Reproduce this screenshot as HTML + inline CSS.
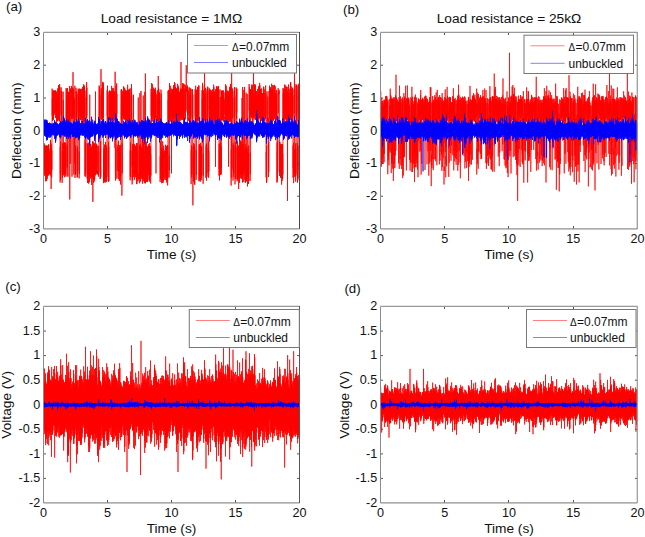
<!DOCTYPE html>
<html><head><meta charset="utf-8"><style>
html,body{margin:0;padding:0;background:#fff;width:645px;height:537px;overflow:hidden}
svg{display:block}
text{font-family:"Liberation Sans",sans-serif;fill:#111}
</style></head><body>
<svg width="645" height="537" viewBox="0 0 645 537" fill="none">
<path d="M107.5 229.0v-3M107.5 32.5v2.5M171.5 229.0v-3M171.5 32.5v2.5M235.5 229.0v-3M235.5 32.5v2.5M43.5 65.2h2.5M299.5 65.2h-2.5M43.5 98.0h2.5M299.5 98.0h-2.5M43.5 130.8h2.5M299.5 130.8h-2.5M43.5 163.5h2.5M299.5 163.5h-2.5M43.5 196.2h2.5M299.5 196.2h-2.5" stroke="#555" stroke-width="1" fill="none"/>
<text x="43.5" y="243.3" font-size="12.6" text-anchor="middle">0</text>
<text x="107.5" y="243.3" font-size="12.6" text-anchor="middle">5</text>
<text x="171.5" y="243.3" font-size="12.6" text-anchor="middle">10</text>
<text x="235.5" y="243.3" font-size="12.6" text-anchor="middle">15</text>
<text x="299.5" y="243.3" font-size="12.6" text-anchor="middle">20</text>
<text x="40.2" y="36.3" font-size="12.6" text-anchor="end">3</text>
<text x="40.2" y="69.0" font-size="12.6" text-anchor="end">2</text>
<text x="40.2" y="101.8" font-size="12.6" text-anchor="end">1</text>
<text x="40.2" y="134.6" font-size="12.6" text-anchor="end">0</text>
<text x="40.2" y="167.3" font-size="12.6" text-anchor="end">-1</text>
<text x="40.2" y="200.1" font-size="12.6" text-anchor="end">-2</text>
<text x="40.2" y="232.8" font-size="12.6" text-anchor="end">-3</text>
<text x="171.5" y="259.0" font-size="13.7" text-anchor="middle">Time (s)</text>
<text transform="translate(21.0 130.8) rotate(-90)" font-size="13.7" text-anchor="middle">Deflection (mm)</text>
<text x="171.5" y="22.8" font-size="13.7" text-anchor="middle">Load resistance = 1MΩ</text>
<text x="6.0" y="11.4" font-size="13.3">(a)</text>
<path d="M444.5 229.0v-3M444.5 32.5v2.5M508.5 229.0v-3M508.5 32.5v2.5M573.5 229.0v-3M573.5 32.5v2.5M380.5 65.2h2.5M637.5 65.2h-2.5M380.5 98.0h2.5M637.5 98.0h-2.5M380.5 130.8h2.5M637.5 130.8h-2.5M380.5 163.5h2.5M637.5 163.5h-2.5M380.5 196.2h2.5M637.5 196.2h-2.5" stroke="#555" stroke-width="1" fill="none"/>
<text x="380.5" y="243.3" font-size="12.6" text-anchor="middle">0</text>
<text x="444.8" y="243.3" font-size="12.6" text-anchor="middle">5</text>
<text x="509.0" y="243.3" font-size="12.6" text-anchor="middle">10</text>
<text x="573.2" y="243.3" font-size="12.6" text-anchor="middle">15</text>
<text x="637.5" y="243.3" font-size="12.6" text-anchor="middle">20</text>
<text x="377.2" y="36.3" font-size="12.6" text-anchor="end">3</text>
<text x="377.2" y="69.0" font-size="12.6" text-anchor="end">2</text>
<text x="377.2" y="101.8" font-size="12.6" text-anchor="end">1</text>
<text x="377.2" y="134.6" font-size="12.6" text-anchor="end">0</text>
<text x="377.2" y="167.3" font-size="12.6" text-anchor="end">-1</text>
<text x="377.2" y="200.1" font-size="12.6" text-anchor="end">-2</text>
<text x="377.2" y="232.8" font-size="12.6" text-anchor="end">-3</text>
<text x="509.0" y="259.0" font-size="13.7" text-anchor="middle">Time (s)</text>
<text transform="translate(358.7 130.8) rotate(-90)" font-size="13.7" text-anchor="middle">Deflection (mm)</text>
<text x="509.0" y="22.8" font-size="13.7" text-anchor="middle">Load resistance = 25kΩ</text>
<text x="343.0" y="14.4" font-size="13.3">(b)</text>
<path d="M107.5 503.0v-3M107.5 306.5v2.5M171.5 503.0v-3M171.5 306.5v2.5M235.5 503.0v-3M235.5 306.5v2.5M43.5 331.1h2.5M299.5 331.1h-2.5M43.5 355.6h2.5M299.5 355.6h-2.5M43.5 380.2h2.5M299.5 380.2h-2.5M43.5 404.8h2.5M299.5 404.8h-2.5M43.5 429.3h2.5M299.5 429.3h-2.5M43.5 453.9h2.5M299.5 453.9h-2.5M43.5 478.4h2.5M299.5 478.4h-2.5" stroke="#555" stroke-width="1" fill="none"/>
<text x="43.5" y="517.3" font-size="12.6" text-anchor="middle">0</text>
<text x="107.5" y="517.3" font-size="12.6" text-anchor="middle">5</text>
<text x="171.5" y="517.3" font-size="12.6" text-anchor="middle">10</text>
<text x="235.5" y="517.3" font-size="12.6" text-anchor="middle">15</text>
<text x="299.5" y="517.3" font-size="12.6" text-anchor="middle">20</text>
<text x="40.2" y="310.3" font-size="12.6" text-anchor="end">2</text>
<text x="40.2" y="334.9" font-size="12.6" text-anchor="end">1.5</text>
<text x="40.2" y="359.4" font-size="12.6" text-anchor="end">1</text>
<text x="40.2" y="384.0" font-size="12.6" text-anchor="end">0.5</text>
<text x="40.2" y="408.6" font-size="12.6" text-anchor="end">0</text>
<text x="40.2" y="433.1" font-size="12.6" text-anchor="end">-0.5</text>
<text x="40.2" y="457.7" font-size="12.6" text-anchor="end">-1</text>
<text x="40.2" y="482.2" font-size="12.6" text-anchor="end">-1.5</text>
<text x="40.2" y="506.8" font-size="12.6" text-anchor="end">-2</text>
<text x="171.5" y="533.0" font-size="13.7" text-anchor="middle">Time (s)</text>
<text transform="translate(11.4 404.8) rotate(-90)" font-size="13.7" text-anchor="middle">Voltage (V)</text>
<text x="5.3" y="290.6" font-size="13.3">(c)</text>
<path d="M444.5 503.0v-3M444.5 306.5v2.5M508.5 503.0v-3M508.5 306.5v2.5M573.5 503.0v-3M573.5 306.5v2.5M380.5 331.1h2.5M637.5 331.1h-2.5M380.5 355.6h2.5M637.5 355.6h-2.5M380.5 380.2h2.5M637.5 380.2h-2.5M380.5 404.8h2.5M637.5 404.8h-2.5M380.5 429.3h2.5M637.5 429.3h-2.5M380.5 453.9h2.5M637.5 453.9h-2.5M380.5 478.4h2.5M637.5 478.4h-2.5" stroke="#555" stroke-width="1" fill="none"/>
<text x="380.5" y="517.3" font-size="12.6" text-anchor="middle">0</text>
<text x="444.8" y="517.3" font-size="12.6" text-anchor="middle">5</text>
<text x="509.0" y="517.3" font-size="12.6" text-anchor="middle">10</text>
<text x="573.2" y="517.3" font-size="12.6" text-anchor="middle">15</text>
<text x="637.5" y="517.3" font-size="12.6" text-anchor="middle">20</text>
<text x="377.2" y="310.3" font-size="12.6" text-anchor="end">2</text>
<text x="377.2" y="334.9" font-size="12.6" text-anchor="end">1.5</text>
<text x="377.2" y="359.4" font-size="12.6" text-anchor="end">1</text>
<text x="377.2" y="384.0" font-size="12.6" text-anchor="end">0.5</text>
<text x="377.2" y="408.6" font-size="12.6" text-anchor="end">0</text>
<text x="377.2" y="433.1" font-size="12.6" text-anchor="end">-0.5</text>
<text x="377.2" y="457.7" font-size="12.6" text-anchor="end">-1</text>
<text x="377.2" y="482.2" font-size="12.6" text-anchor="end">-1.5</text>
<text x="377.2" y="506.8" font-size="12.6" text-anchor="end">-2</text>
<text x="509.0" y="533.0" font-size="13.7" text-anchor="middle">Time (s)</text>
<text transform="translate(348.5 404.8) rotate(-90)" font-size="13.7" text-anchor="middle">Voltage (V)</text>
<text x="344.4" y="292.7" font-size="13.3">(d)</text>
<path transform="translate(43.500 0) scale(0.125)" d="M0 1135l1 256 1-185 1 180 1-241 1 173 1-135 1 180 1 42 1-248 1 198 1-160 1 149 1-146 1 134 1-160 1-8 1 287 1-218 1 144 1-202 1 236 1-223 1 256 1-280 1 283 1-207 1 189 1-263 1 264 1-237 1 214 1-241 1 242 1-170 1 136 1-158 1 188 1-236 1 178 1-190 1 246 1-245 1 183 1-150 1 202 1-182 1 177 1-7 1 9 1-8 1 13 1-21 1 7 1 10 1-11 1-261 1 285 1-263 1 179 1-120 1 313 1-357 1 221 1-189 1 231 1-214 1 155 1-369 1-281 1 215 1-137 1 178 1-239 1 175 1-121 1 182 1-210 1 201 1-155 1 158 1-235 1 190 1-179 1 189 1-194 1 186 1-176 1-7 1 18 1-7 1 1 1-7 1-12 1 14 1-12 1 218 1-218 1 155 1-95 1 112 1-167 1 160 1-120 1 219 1-250 1 189 1-132 1 173 1-171 1 172 1-221 1 215 1-257 1 239 1-191 1 182 1-174 1 179 1-174 1-87 1 283 1-200 1 192 1-247 1 208 1-233 1 267 1 19 1-298 1 230 1-203 1 461 1 300 1-286 1 207 1 58 1-306 1 265 1-213 1-197 1-289 1 220 1-177 1-14 1 259 1-252 1 204 1 212 1 312 1-254 1 215 1-16 1-259 1 192 1-179 1-196 1-233 1 230 1-161 1 601 1-261 1 218 1-196 1 219 1-173 1 133 1-167 1-38 1 280 1-250 1 207 1-231 1 269 1-257 1 229 1-243 1 256 1-222 1 155 1-349 1-278 1 244 1-182 1-54 1 246 1-197 1 137 1 514 1-255 1 188 1-114 1-527 1 242 1-190 1 166 1 491 1-503 1-174 1 140 1-142 1 265 1-239 1 226 1-205 1 187 1-224 1 253 1-18 1-291 1 908 1-838 1 179 1-203 1 577 1-588 1 21 1-38 1 24 1 14 1-18 1 2 1-7 1 17 1-51 1 265 1-217 1 199 1 479 1-471 1-225 1 208 1-225 1 249 1-220 1 196 1-348 1 368 1-204 1 161 1-193 1 277 1 411 1-473 1-137 1 131 1-133 1 191 1-16 1 347 1-411 1-210 1 738 1-245 1 195 1-165 1 189 1-237 1 229 1-160 1-528 1 259 1-229 1 221 1 1 1-218 1 200 1-182 1 373 1 292 1-229 1 160 1 68 1-246 1 194 1-128 1-285 1-244 1 193 1-151 1 213 1-252 1 215 1-161 1 363 1 298 1-215 1 180 1-418 1-266 1 196 1-183 1 204 1-166 1 203 1-187 1-62 1 246 1-199 1 154 1-163 1 184 1-185 1 181 1-221 1 254 1-181 1 157 1-164 1 143 1-134 1 167 1 28 1-285 1 246 1-192 1 211 1-263 1 225 1-186 1 256 1-318 1 226 1-211 1 287 1-281 1 262 1-272 1 48 1 255 1-207 1 172 1 458 1-295 1 286 1-261 1 271 1-264 1 238 1-212 1-449 1 206 1-152 1 113 1 52 1-288 1 267 1-222 1 442 1 284 1-280 1 255 1 62 1-315 1 284 1-191 1 180 1-258 1 250 1-209 1 264 1-328 1 232 1-182 1 198 1-234 1 226 1-197 1 274 1-308 1-393 1 402 1 248 1-169 1 157 1-217 1 250 1-276 1 253 1-244 1 239 1-170 1 185 1-240 1 10 1 295 1-279 1 214 1-142 1 122 1-143 1 147 1-269 1 298 1-253 1 440 1-483 1 273 1-222 1 178 1 101 1-322 1 266 1-258 1 308 1-242 1 229 1-226 1-68 1 287 1-265 1 238 1-231 1 197 1-212 1 235 1-666 1 668 1-220 1 208 1-218 1 215 1-204 1 185 1-216 1 239 1-227 1 193 1-142 1 125 1-173 1 222 1-22 1-4 1 38 1-35 1 22 1 3 1-22 1 17 1 29 1-244 1 202 1-131 1-268 1-289 1 278 1-225 1-39 1 240 1-179 1 127 1 277 1 271 1-222 1 154 1 58 1-292 1 281 1-234 1-625 1 399 1-245 1 186 1 64 1-228 1 161 1-135 1 142 1-108 1 153 1-194 1 204 1-297 1 234 1-215 1 201 1-190 1 257 1-282 1 502 1 303 1-226 1 223 1-276 1 265 1-248 1 230 1-277 1 300 1-228 1 183 1-188 1 151 1-163 1 206 1-283 1 326 1-283 1 197 1-216 1 222 1-193 1 251 1 15 1-280 1 277 1-252 1-228 1-247 1 205 1-196 1-47 1 290 1-240 1 206 1 241 1 232 1-215 1 171 1-233 1 318 1-281 1 273 1-714 1 214 1-189 1 140 1-175 1 237 1-232 1 200 1-163 1 137 1-175 1 176 1-166 1 254 1-213 1 172 1-144 1 139 1-133 1 161 1-9 1-277 1 249 1-196 1 217 1-230 1 199 1-221 1 18 1 230 1-189 1 183 1-208 1 183 1-168 1 197 1 17 1-262 1 235 1-210 1 200 1-179 1 169 1-161 1-28 1 225 1-184 1 156 1 254 1-609 1 651 1 176 1 43 1-259 1 252 1-199 1-552 1 271 1-225 1 225 1-5 1-285 1 239 1-155 1 677 1-270 1 211 1-177 1-3 1 11 1 7 1-17 1-11 1 5 1 2 1-1 1-59 1 309 1-261 1 176 1-144 1 166 1-163 1 156 1 83 1-288 1 205 1-177 1 185 1-194 1 188 1-121 1 230 1-318 1 254 1-241 1-180 1-273 1 238 1-175 1-69 1 273 1-246 1 826 1-166 1-253 1 240 1-183 1-222 1-255 1 198 1-141 1 146 1-161 1 187 1-215 1-49 1 257 1-250 1 223 1-174 1 175 1-179 1 195 1 19 1-255 1 187 1-125 1 190 1-215 1 191 1-184 1-28 1 285 1-250 1 208 1-172 1 149 1-205 1 244 1 20 1-273 1 244 1-199 1 152 1-180 1 181 1-126 1 167 1-285 1 268 1-220 1 179 1-186 1 186 1-188 1 5 1 252 1-246 1 236 1-217 1 187 1-187 1 211 1-248 1 278 1-221 1 191 1 175 1 310 1-240 1 207 1-270 1 277 1-214 1 134 1-632 1 281 1-276 1 227 1-264 1 279 1-196 1 171 1 215 1 333 1-264 1 222 1-279 1 292 1-248 1 192 1-161 1 168 1-210 1 175 1-604 1 658 1-257 1 227 1-230 1 186 1-191 1 254 1 33 1-273 1 196 1-155 1 165 1-185 1 223 1-197 1 206 1-253 1 193 1-184 1 218 1-172 1 133 1-145 1-63 1 328 1-305 1 302 1-263 1 204 1-266 1 277 1-3 1 12 1-14 1 7 1 26 1-34 1-636 1 630 1 6 1 18 1-48 1 45 1-16 1-13 1 3 1-2 1-241 1 304 1-289 1-432 1 486 1 157 1-164 1 204 1-273 1 297 1-280 1 196 1-641 1 679 1-169 1 157 1-216 1 252 1-194 1 131 1-179 1 237 1-223 1 176 1-248 1 340 1-267 1 188 1-168 1 205 1-664 1 658 1-283 1 310 1-305 1 268 1-194 1 170 1-176 1 179 1 74 1-344 1-386 1 394 1 332 1-245 1 224 1-852 1 879 1-333 1 291 1-229 1 185 1-176 1 237 1-308 1 23 1 298 1-219 1 197 1-263 1 257 1-240 1 189 1 81 1-284 1 276 1-233 1 220 1-239 1 196 1-137 1 142 1-244 1 233 1-182 1 139 1-179 1 190 1-185 1 283 1-309 1 289 1-212 1 199 1-205 1 194 1-224 1-18 1 301 1-234 1 171 1-440 1-254 1 214 1-182 1 238 1-317 1 289 1-212 1 152 1-154 1 155 1-221 1 60 1 239 1-236 1 169 1-112 1 134 1-140 1 137 1 30 1-253 1 230 1-221 1 218 1-213 1 168 1-165 1 247 1-249 1 245 1-174 1 138 1-198 1 165 1-164 1-26 1 244 1-217 1 199 1 459 1-473 1-162 1 179 1 11 1-9 1 0 1 5 1 21 1-17 1-15 1 5 1 37 1-248 1 238 1-179 1 157 1-144 1-185 1 119 1-20 1 283 1-279 1 267 1-224 1 170 1-153 1 179 1-212 1 226 1-164 1 137 1 227 1 292 1-206 1 123 1 62 1-302 1 243 1-177 1-482 1 258 1-224 1 165 1 257 1 293 1-283 1 261 1-246 1 229 1-234 1 191 1 79 1-332 1 241 1-168 1 229 1-206 1 234 1-241 1 224 1-279 1 211 1-149 1 197 1-222 1 236 1-211 1 1 1-5 1 28 1-15 1 0 1-30 1 30 1-29 1-49 1 283 1-233 1 165 1-130 1 170 1-233 1 254 1-267 1 293 1-236 1 210 1-247 1 230 1-212 1 216 1-261 1 323 1-315 1 258 1-700 1 276 1-200 1 149 1-4 1-228 1 166 1-162 1 450 1 246 1-175 1 117 1-695 1 304 1-244 1 218 1-235 1 186 1-209 1 268 1-216 1 235 1-172 1 139 1-137 1 137 1-135 1 103 1 479 1-679 1 229 1-196 1 156 1-135 1 116 1-155 1 266 1-275 1 251 1-251 1 207 1-153 1 162 1-206 1 252 1-296 1 238 1-225 1 243 1-227 1 202 1-185 1-69 1 318 1-254 1 219 1-273 1 263 1-192 1 161 1-203 1 308 1-300 1 236 1-187 1 176 1-214 1 243 1-16 1-237 1 205 1-178 1 163 1-129 1 114 1-151 1 252 1-310 1 233 1-185 1 209 1-242 1 229 1-217 1 275 1-267 1 222 1-201 1 194 1-162 1 167 1-189 1-1 1 257 1-235 1 200 1-214 1 181 1-113 1 117 1-219 1 254 1-222 1 151 1-397 1 426 1-171 1 164 1-206 1 249 1-198 1 181 1-211 1 168 1-179 1 224 1 16 1-295 1 227 1-225 1 274 1-195 1 186 1-231 1 284 1-312 1 312 1-253 1 177 1-199 1 269 1-293 1 5 1-14 1 13 1 3 1-13 1 10 1 2 1 0 1 264 1-262 1 206 1-193 1 173 1-141 1-216 1 189 1 24 1-20 1-22 1 4 1 37 1-15 1 9 1-2 1-42 1 291 1-231 1 172 1-217 1 226 1-202 1 238 1-22 1 27 1-8 1-14 1 9 1-6 1 1 1 10 1 14 1-273 1 259 1-201 1 140 1-142 1 152 1-127 1 196 1-270 1 218 1-212 1 460 1 301 1-272 1 198 1-236 1 257 1-200 1 176 1-447 1-234 1 224 1-204 1-20 1 257 1-214 1 885 1-246 1-225 1 170 1-103 1 215 1-309 1 217 1-185 1 236 1-196 1 217 1-280 1 319 1-293 1 298 1-232 1-255 1-277 1 213 1-177 1 235 1-299 1 295 1-223 1 363 1 318 1-235 1 195 1-681 1 262 1-190 1 189 1-204 1 187 1-203 1 208 1-270 1 272 1-254 1 230 1-172 1 186 1-260 1 196 1 70 1-281 1 247 1-246 1 766 1-294 1 288 1-213 1-80 1 268 1-246 1 210 1-184 1 153 1-187 1 218 1 68 1-309 1 267 1-192 1 156 1-178 1 245 1-258 1 242 1-256 1 229 1-196 1-480 1 248 1-178 1 132 1-261 1 295 1-276 1 266 1 241 1 281 1-240 1 176 1-410 1-276 1 252 1-240 1 258 1-242 1 197 1-187 1-184 1 125 1 259 1-198 1 135 1-134 1 196 1-211 1-44 1 280 1-236 1 189 1 489 1-265 1 256 1-227 1 257 1-297 1 237 1-177 1-497 1 270 1-254 1 234 1-14 1-254 1 191 1-185 1 715 1-237 1 208 1-144 1-108 1 289 1-215 1 162 1-415 1-230 1 221 1-216 1-22 1 271 1-248 1 204 1-178 1 210 1-211 1 209 1-247 1 223 1-201 1 162 1-139 1 130 1-145 1 151 1 67 1-242 1 232 1-186 1 194 1-227 1 180 1-135 1 208 1-275 1 200 1-123 1 179 1-176 1 189 1-216 1 169 1-259 1 223 1-202 1 237 1-204 1 155 1-147 1 254 1-255 1 247 1-171 1 172 1-190 1 178 1-183 1 543 1-356 1-263 1 256 1-259 1 257 1-237 1 182 1-224 1 256 1-207 1 155 1-147 1 158 1-213 1 195 1-188 1 284 1-221 1 170 1-173 1 219 1-196 1 199 1-293 1 274 1-250 1 175 1 518 1-255 1 201 1-144 1 236 1-294 1 226 1-207 1-453 1 257 1-196 1 176 1 168 1 279 1-257 1 254 1-219 1 217 1-223 1 175 1-621 1 234 1-233 1 233 1-180 1 158 1-161 1 169 1-222 1 241 1-189 1 166 1-171 1 178 1-175 1 190 1-239 1 251 1-192 1 119 1-164 1 179 1-120 1 155 1-17 1 12 1-3 1-6 1 17 1-8 1 9 1 3 1-284 1 294 1-235 1 204 1-217 1 214 1-249 1 218 1-146 1 234 1-204 1 154 1-167 1 189 1-197 1 186 1 12 1-242 1 236 1-191 1 138 1-159 1 214 1-227 1 600 1-604 1 177 1-131 1 168 1-148 1 140 1-183 1-58 1 281 1-221 1 181 1-202 1 229 1-199 1 206 1-299 1 301 1-282 1 269 1 208 1 318 1-287 1 223 1-271 1-576 1 631 1 145 1-356 1-289 1 241 1-171 1-59 1 232 1-166 1 108 1 555 1-299 1 218 1-202 1 252 1-254 1 225 1-158 1-270 1-231 1 209 1-189 1-49 1 289 1-212 1 160 1 541 1-342 1 295 1-253 1 212 1 44 1-260 1 258 1-466 1-264 1 200 1-144 1 198 1-244 1 185 1-184 1 429 1 311 1-267 1 219 1-270 1 308 1-223 1 186 1-199 1 208 1-229 1 239 1-258 1 348 1-317 1 208 1-219 1 232 1-202 1 187 1 61 1-344 1 244 1-147 1 179 1-262 1 264 1-223 1 253 1-302 1 276 1-233 1 197 1-217 1 242 1-205 1 246 1-295 1 228 1-221 1-358 1 423 1 173 1-163 1 243 1-764 1 700 1-169 1 158 1-211 1 282 1-293 1-9 1 249 1-682 1 610 1-137 1 181 1-162 1 158 1-639 1-37 1 490 1 254 1-178 1 198 1-245 1 212 1 35 1-307 1 245 1-171 1-418 1-69 1 712 1-257 1 248 1-271 1 205 1-143 1 171 1-162 1-492 1 477 1 262 1-41 1-223 1 189 1-231 1 183 1-146 1 199 1 51 1-309 1 280 1-270 1-228 1-273 1 213 1-180 1-7 1 290 1-268 1 261 1 149 1 317 1-225 1 169 1-679 1 219 1-191 1 141 1-139 1 171 1-142 1 122 1 52 1-268 1 256 1-243 1 203 1-169 1 203 1-193 1 267 1-323 1 246 1-182 1 236 1-217 1 181 1-207 1-161 1 133 1 185 1-122 1 158 1-184 1 210 1-199 1 178 1-260 1 203 1-130 1 165 1-225 1 202 1-211 1 283 1-223 1 219 1-190 1 182 1-158 1 166 1-205 1-23 1 265 1-231 1 172 1-166 1 159 1-156 1 203 1-4 1-259 1 205 1-177 1 213 1-189 1 141 1-156 1-57 1 280 1-215 1 183 1-174 1 185 1-259 1 253 1-1 1-280 1 274 1-255 1 257 1-223 1 152 1-155 1 259 1-258 1 243 1-189 1 198 1-223 1 215 1-211 1 219 1-259 1 258 1-208 1 206 1-218 1 219 1-186 1-32 1 251 1-216 1 161 1-137 1 162 1-217 1 172 1-229 1 297 1-293 1 232 1-185 1 223 1-251 1 205 1-18 1-4 1 13 1-1 1 15 1 10 1-22 1 7 1 33 1-271 1 230 1-166 1 423 1 248 1-203 1 184 1 65 1-300 1 289 1-262 1-461 1 257 1-213 1 184 1 5 1-9 1 4 1-18 1 3 1 34 1-17 1-12 1 469 1-280 1 237 1-155 1-491 1 245 1-200 1 134 1-222 1 265 1-242 1 203 1-166 1 193 1-209 1 181 1-212 1 273 1-237 1 228 1-195 1 150 1-201 1 225 1 48 1-319 1 293 1-250 1 212 1-215 1 273 1-263 1 260 1-299 1 238 1-179 1 218 1-213 1 223 1-285 1 4 1 272 1-208 1 132 1-138 1 136 1-130 1 133 1-205 1 271 1-221 1 195 1-174 1 195 1-256 1 234 1 76 1-249 1 245 1-174 1 129 1-190 1 177 1-178 1-40 1 243 1-215 1 173 1 542 1-320 1 309 1-239 1 214 1-301 1 251 1-208 1-191 1-272 1 200 1-162 1 3 1-13 1-8 1 30 1-38 1 24 1-5 1 14 1 658 1-276 1 256 1-251 1 208 1-160 1 141 1-132 1 229 1-272 1 241 1-237 1 262 1-237 1 195 1-210 1-10 1 322 1-317 1 226 1-147 1 209 1-292 1 273 1-275 1 274 1-199 1 167 1-692 1 294 1-250 1 217 1 20 1-274 1 216 1-162 1 143 1-193 1 234 1-187 1 210 1-296 1 245 1-164 1 182 1-181 1 169 1-182 1 211 1-273 1 236 1-164 1 192 1-247 1 242 1-244 1 297 1-301 1 296 1-274 1 239 1-260 1 239 1-199 1 872 1-872 1 229 1-161 1 179 1-216 1 219 1-189 1-120 1 317 1-225 1 193 1-217 1 198 1-232 1 226 1 0 1-16 1 19 1-2 1-9 1-9 1 17 1-4 1-275 1 302 1-299 1 223 1-150 1 214 1-220 1 224 1 2 1-260 1 199 1-133 1 163 1-209 1 197 1-162 1 224 1-270 1 222 1-164 1 661 1-258 1 183 1-158 1-45 1 322 1-262 1 178 1-402 1-262 1 188 1-169 1-162 1 841 1-221 1 205 1-192 1 142 1-107 1 166 1-261 1 306 1-267 1 198 1-712 1 260 1-245 1 199 1 110 1-317 1 286 1-280 1 444 1 274 1-259 1 229 1 89 1-299 1 283 1-255 1-236 1-271 1 227 1-168 1 212 1-285 1 265 1-200 1 694 1-263 1 199 1-171" stroke="#f00" stroke-width="6.4" stroke-linejoin="bevel"/>
<path transform="translate(43.500 0) scale(0.125)" d="M0 996l1 94 1-92 1 73 1-72 1 71 1-68 1 56 1-101 1 130 1-128 1 120 1-107 1 105 1-84 1 80 1-116 1 136 1-125 1 123 1-123 1 119 1-104 1 92 1-117 1 166 1-164 1 152 1-148 1 122 1-112 1 107 1 39 1-135 1 107 1-104 1 101 1-98 1 95 1-93 1 107 1-115 1 94 1-93 1 91 1-85 1 70 1-62 1-19 1 121 1-119 1 110 1-109 1 92 1-89 1 84 1 29 1-108 1 90 1-87 1 80 1-79 1 70 1-70 1-7 1 102 1-91 1 76 1-74 1 70 1-64 1 62 1 8 1-91 1 87 1-82 1 79 1-76 1 76 1-75 1 87 1-99 1 91 1-85 1 85 1-84 1 77 1-75 1-31 1 150 1-145 1 123 1-115 1 107 1-105 1 96 1 69 1-157 1 143 1-139 1 120 1-118 1 97 1-94 1 97 1-105 1 102 1-101 1 97 1-97 1 83 1-81 1 0 1 93 1-87 1 84 1-82 1 79 1-75 1 65 1 4 1-76 1 75 1-67 1 63 1-61 1 59 1-56 1 91 1-113 1 104 1-102 1 88 1-86 1 82 1-71 1-33 1 141 1-131 1 118 1-116 1 94 1-80 1 79 1-92 1 101 1-90 1 90 1-85 1 83 1-81 1 76 1-107 1 115 1-110 1 109 1-89 1 80 1-76 1 70 1-137 1 154 1-145 1 141 1-136 1 136 1-123 1 119 1 17 1-136 1 135 1-131 1 126 1-114 1 111 1-97 1-10 1 117 1-114 1 87 1-78 1 76 1-71 1 65 1 52 1-159 1 116 1-103 1 102 1-96 1 88 1-66 1 103 1-122 1 119 1-99 1 96 1-89 1 72 1-71 1 111 1-148 1 124 1-111 1 105 1-104 1 91 1-74 1 104 1-123 1 100 1-97 1 96 1-89 1 85 1-75 1-19 1 130 1-123 1 92 1-88 1 84 1-73 1 71 1 6 1-94 1 90 1-82 1 82 1-78 1 73 1-66 1-11 1 106 1-102 1 95 1-95 1 89 1-84 1 67 1 30 1-125 1 122 1-114 1 102 1-100 1 90 1-85 1-11 1 116 1-116 1 112 1-109 1 99 1-95 1 86 1 39 1-128 1 98 1-88 1 85 1-79 1 75 1-74 1-42 1 150 1-150 1 146 1-132 1 131 1-120 1 115 1-118 1 107 1-88 1 82 1-81 1 77 1-70 1 57 1-122 1 184 1-156 1 150 1-146 1 138 1-131 1 114 1-98 1 111 1-105 1 72 1-70 1 68 1-67 1 62 1 20 1-100 1 95 1-91 1 85 1-76 1 69 1-69 1-31 1 117 1-91 1 85 1-85 1 75 1-70 1 64 1-93 1 119 1-103 1 94 1-90 1 84 1-72 1 67 1 19 1-94 1 84 1-82 1 76 1-72 1 70 1-62 1-17 1 111 1-111 1 87 1-85 1 84 1-79 1 69 1 48 1-171 1 161 1-144 1 143 1-135 1 124 1-113 1 12 1 101 1-96 1 90 1-88 1 81 1-75 1 71 1-121 1 160 1-148 1 136 1-114 1 109 1-104 1 85 1-111 1 153 1-131 1 120 1-116 1 111 1-110 1 95 1-126 1 200 1-172 1 103 1-95 1 93 1-88 1 83 1 15 1-129 1 118 1-109 1 101 1-91 1 75 1-64 1-68 1 161 1-112 1 110 1-102 1 95 1-87 1 82 1 9 1-133 1 129 1-108 1 107 1-97 1 84 1-79 1 6 1 73 1-71 1 60 1-59 1 55 1-51 1 46 1 76 1-162 1 147 1-142 1 123 1-117 1 107 1-101 1 9 1 90 1-88 1 84 1-82 1 79 1-76 1 69 1 5 1-82 1 80 1-71 1 69 1-69 1 62 1-57 1-18 1 85 1-73 1 70 1-68 1 57 1-53 1 50 1-119 1 201 1-176 1 156 1-154 1 144 1-119 1 103 1 15 1-154 1 150 1-131 1 124 1-106 1 100 1-98 1 6 1 78 1-72 1 69 1-67 1 65 1-60 1 55 1 16 1-111 1 110 1-110 1 109 1-82 1 74 1-73 1-44 1 148 1-140 1 126 1-115 1 110 1-98 1 90 1 17 1-140 1 135 1-114 1 110 1-105 1 93 1-75 1-3 1 84 1-83 1 81 1-75 1 73 1-69 1 52 1-88 1 136 1-131 1 105 1-97 1 96 1-86 1 84 1-5 1-73 1 72 1-68 1 62 1-62 1 62 1-58 1 72 1-103 1 101 1-100 1 95 1-83 1 73 1-68 1 120 1-175 1 163 1-157 1 156 1-123 1 116 1-108 1 92 1-76 1 60 1-59 1 59 1-58 1 56 1-49 1 98 1-161 1 158 1-130 1 123 1-119 1 112 1-104 1-6 1 113 1-112 1 96 1-94 1 88 1-65 1 59 1 66 1-186 1 165 1-140 1 133 1-131 1 123 1-114 1 96 1-87 1 86 1-79 1 77 1-77 1 71 1-65 1-21 1 110 1-109 1 96 1-93 1 86 1-73 1 69 1-161 1 213 1-199 1 195 1-174 1 173 1-167 1 152 1-127 1 124 1-118 1 107 1-93 1 89 1-86 1 79 1-124 1 153 1-135 1 130 1-126 1 125 1-105 1 88 1 11 1-123 1 118 1-113 1 99 1-98 1 96 1-75 1-4 1 104 1-102 1 81 1-75 1 70 1-69 1 67 1 51 1-134 1 111 1-108 1 106 1-104 1 90 1-84 1-3 1 100 1-99 1 84 1-83 1 80 1-77 1 68 1-71 1 85 1-83 1 82 1-81 1 67 1-61 1 54 1-92 1 118 1-103 1 103 1-97 1 88 1-84 1 82 1 34 1-130 1 120 1-114 1 112 1-112 1 106 1-100 1-23 1 127 1-115 1 106 1-97 1 84 1-82 1 75 1 48 1-119 1 107 1-104 1 83 1-71 1 69 1-67 1 91 1-140 1 132 1-99 1 79 1-77 1 74 1-73 1 96 1-126 1 120 1-117 1 114 1-93 1 89 1-84 1 90 1-136 1 131 1-119 1 115 1-106 1 104 1-80 1-27 1 132 1-128 1 127 1-121 1 103 1-96 1 92 1-1 1-88 1 84 1-71 1 70 1-69 1 67 1-64 1-46 1 122 1-105 1 97 1-93 1 90 1-87 1 80 1 37 1-121 1 113 1-108 1 106 1-101 1 98 1-96 1 97 1-131 1 128 1-124 1 119 1-113 1 107 1-95 1 1 1 113 1-107 1 103 1-89 1 79 1-77 1 72 1-97 1 109 1-98 1 88 1-79 1 78 1-74 1 74 1-96 1 123 1-105 1 92 1-91 1 89 1-87 1 74 1-2 1-72 1 70 1-66 1 63 1-63 1 58 1-58 1-33 1 122 1-99 1 81 1-75 1 70 1-63 1 63 1 12 1-106 1 102 1-95 1 87 1-82 1 77 1-61 1 106 1-151 1 143 1-142 1 135 1-128 1 112 1-111 1-1 1 165 1-150 1 131 1-130 1 114 1-98 1 82 1-111 1 128 1-126 1 122 1-118 1 117 1-103 1 84 1 75 1-180 1 133 1-123 1 104 1-92 1 89 1-83 1-52 1 158 1-142 1 139 1-138 1 133 1-122 1 109 1-91 1 94 1-90 1 73 1-60 1 54 1-53 1 47 1 87 1-213 1 185 1-172 1 171 1-153 1 135 1-122 1 108 1-129 1 121 1-96 1 94 1-91 1 82 1-72 1-33 1 142 1-140 1 127 1-119 1 115 1-91 1 89 1-98 1 150 1-142 1 100 1-94 1 84 1-79 1 68 1 37 1-123 1 109 1-108 1 92 1-90 1 85 1-74 1 78 1-92 1 90 1-83 1 77 1-72 1 64 1-59 1 81 1-126 1 119 1-85 1 80 1-78 1 69 1-54 1-56 1 138 1-109 1 107 1-103 1 92 1-79 1 75 1-83 1 96 1-96 1 94 1-90 1 83 1-82 1 65 1 34 1-140 1 139 1-127 1 123 1-113 1 105 1-94 1-5 1 123 1-118 1 86 1-81 1 77 1-74 1 70 1 40 1-132 1 114 1-106 1 102 1-99 1 97 1-93 1 153 1-173 1 131 1-112 1 110 1-105 1 88 1-85 1-44 1 167 1-166 1 161 1-133 1 106 1-90 1 85 1 24 1-139 1 133 1-118 1 114 1-106 1 88 1-83 1-16 1 128 1-112 1 92 1-89 1 84 1-75 1 67 1-88 1 92 1-90 1 76 1-74 1 73 1-67 1 64 1 28 1-97 1 90 1-84 1 82 1-77 1 75 1-74 1-18 1 119 1-111 1 93 1-86 1 83 1-75 1 71 1-100 1 119 1-117 1 106 1-103 1 86 1-65 1 60 1 37 1-108 1 101 1-97 1 89 1-85 1 76 1-72 1-45 1 128 1-105 1 100 1-98 1 90 1-83 1 80 1 18 1-97 1 82 1-81 1 81 1-80 1 74 1-68 1 86 1-96 1 88 1-80 1 79 1-79 1 77 1-69 1-40 1 112 1-95 1 89 1-88 1 84 1-75 1 70 1-75 1 87 1-83 1 79 1-60 1 51 1-50 1 46 1-84 1 117 1-116 1 100 1-94 1 89 1-78 1 72 1 17 1-114 1 107 1-97 1 94 1-84 1 81 1-75 1 95 1-111 1 105 1-100 1 94 1-91 1 86 1-77 1-90 1 265 1-204 1 195 1-195 1 151 1-144 1 121 1 8 1-134 1 120 1-115 1 114 1-111 1 104 1-98 1-4 1 109 1-103 1 101 1-100 1 99 1-91 1 83 1 37 1-137 1 109 1-105 1 100 1-97 1 93 1-84 1 104 1-120 1 111 1-101 1 100 1-99 1 93 1-91 1 2 1 90 1-88 1 80 1-66 1 56 1-53 1 49 1 49 1-114 1 102 1-101 1 86 1-84 1 74 1-62 1-26 1 94 1-76 1 72 1-72 1 72 1-58 1 49 1-119 1 160 1-130 1 115 1-115 1 114 1-105 1 97 1-102 1 116 1-104 1 98 1-96 1 95 1-94 1 92 1 13 1-123 1 113 1-107 1 105 1-103 1 96 1-89 1-14 1 152 1-145 1 105 1-105 1 105 1-99 1 87 1-86 1 95 1-94 1 91 1-80 1 73 1-73 1 63 1 77 1-182 1 151 1-142 1 138 1-133 1 121 1-115 1 116 1-127 1 125 1-119 1 115 1-106 1 103 1-99 1 86 1-75 1 73 1-67 1 65 1-61 1 56 1-51 1-48 1 108 1-106 1 102 1-99 1 99 1-76 1 69 1 47 1-150 1 141 1-130 1 116 1-116 1 91 1-84 1-1 1 125 1-113 1 92 1-89 1 88 1-80 1 62 1-108 1 146 1-129 1 124 1-112 1 107 1-103 1 95 1 13 1-108 1 90 1-81 1 79 1-76 1 72 1-70 1 108 1-131 1 122 1-121 1 108 1-99 1 87 1-81 1-7 1 103 1-102 1 94 1-78 1 74 1-67 1 66 1 39 1-181 1 170 1-138 1 125 1-123 1 120 1-109 1-5 1 115 1-114 1 112 1-106 1 106 1-97 1 84 1 35 1-144 1 132 1-125 1 105 1-92 1 81 1-76 1 148 1-191 1 174 1-164 1 156 1-155 1 116 1-107 1 18 1 104 1-102 1 91 1-89 1 88 1-79 1 72 1-84 1 77 1-70 1 64 1-64 1 60 1-53 1 51 1-98 1 127 1-101 1 98 1-90 1 86 1-71 1 68 1 8 1-102 1 85 1-77 1 76 1-74 1 71 1-65 1 99 1-140 1 135 1-116 1 112 1-103 1 94 1-84 1 94 1-101 1 98 1-94 1 90 1-89 1 84 1-73 1 132 1-186 1 165 1-147 1 131 1-130 1 118 1-110 1 11 1 106 1-89 1 84 1-82 1 66 1-54 1 52 1-103 1 134 1-134 1 110 1-106 1 104 1-84 1 80 1-106 1 126 1-120 1 118 1-105 1 89 1-85 1 77 1-60 1 67 1-66 1 63 1-60 1 56 1-51 1 45 1-62 1 86 1-85 1 80 1-68 1 55 1-54 1 50 1-94 1 128 1-97 1 84 1-80 1 78 1-77 1 75 1-116 1 118 1-116 1 113 1-106 1 106 1-85 1 84 1 48 1-171 1 157 1-143 1 140 1-136 1 121 1-108 1 126 1-109 1 96 1-95 1 93 1-89 1 85 1-83 1 105 1-159 1 152 1-138 1 129 1-121 1 114 1-95 1-2 1 120 1-119 1 97 1-95 1 88 1-83 1 78 1 48 1-147 1 122 1-117 1 99 1-85 1 71 1-65 1 75 1-90 1 87 1-76 1 71 1-70 1 59 1-50 1-7 1 88 1-88 1 73 1-73 1 70 1-66 1 62 1 31 1-140 1 137 1-112 1 98 1-93 1 87 1-70 1-39 1 105 1-92 1 89 1-73 1 73 1-64 1 58 1 41 1-139 1 130 1-129 1 128 1-110 1 108 1-103 1-19 1 109 1-101 1 97 1-70 1 70 1-70 1 64 1-95 1 126 1-105 1 78 1-75 1 74 1-69 1 68 1-80 1 121 1-119 1 104 1-100 1 97 1-96 1 86 1-97 1 94 1-90 1 89 1-87 1 81 1-72 1 70 1 13 1-105 1 85 1-75 1 67 1-63 1 63 1-59 1 86 1-89 1 88 1-83 1 74 1-72 1 67 1-64 1-11 1 96 1-84 1 75 1-73 1 68 1-63 1 44 1 26 1-99 1 90 1-79 1 77 1-76 1 71 1-63 1 114 1-130 1 122 1-121 1 91 1-90 1 80 1-76 1-25 1 182 1-176 1 116 1-102 1 92 1-87 1 74 1 32 1-122 1 112 1-108 1 108 1-99 1 93 1-87 1-11 1 101 1-93 1 90 1-89 1 76 1-67 1 57 1 66 1-176 1 151 1-142 1 140 1-125 1 107 1-96 1-6 1 119 1-114 1 109 1-94 1 69 1-61 1 59 1-122 1 136 1-109 1 107 1-106 1 106 1-84 1 79 1 41 1-132 1 106 1-105 1 96 1-95 1 89 1-83 1 83 1-83 1 78 1-73 1 72 1-71 1 65 1-64 1 92 1-121 1 120 1-102 1 100 1-98 1 80 1-77 1-31 1 127 1-108 1 105 1-101 1 88 1-76 1 68 1-93 1 145 1-126 1 116 1-110 1 108 1-104 1 74 1-123 1 153 1-124 1 108 1-101 1 97 1-82 1 74 1 10 1-107 1 107 1-95 1 84 1-84 1 78 1-69 1-34 1 122 1-102 1 94 1-91 1 90 1-79 1 76 1 39 1-143 1 108 1-97 1 95 1-93 1 87 1-79 1-21 1 137 1-133 1 133 1-131 1 120 1-106 1 85 1 12 1-91 1 75 1-72 1 64 1-59 1 55 1-49 1-30 1 86 1-76 1 72 1-63 1 63 1-57 1 57 1 13 1-72 1 71 1-68 1 65 1-64 1 53 1-52 1-20 1 95 1-94 1 90 1-85 1 79 1-71 1 63 1 73 1-254 1 245 1-203 1 182 1-157 1 146 1-131 1 14 1 117 1-116 1 109 1-100 1 99 1-95 1 79 1 16 1-122 1 115 1-105 1 104 1-94 1 82 1-72 1-15 1 111 1-95 1 71 1-66 1 64 1-62 1 61 1-103 1 112 1-90 1 84 1-78 1 76 1-65 1 61 1 24 1-102 1 97 1-96 1 94 1-87 1 78 1-76 1 108 1-169 1 161 1-117 1 114 1-113 1 100 1-93 1 114 1-163 1 157 1-151 1 143 1-112 1 107 1-104 1 117 1-112 1 86 1-84 1 84 1-73 1 67 1-59 1-21 1 98 1-98 1 90 1-86 1 81 1-75 1 71 1 86 1-155 1 116 1-112 1 87 1-85 1 72 1-70 1 92 1-112 1 99 1-97 1 91 1-89 1 86 1-84 1 123 1-123 1 90 1-89 1 87 1-74 1 70 1-67 1 87 1-120 1 118 1-104 1 90 1-88 1 82 1-70 1-50 1 179 1-169 1 141 1-134 1 133 1-127 1 117 1-127 1 146 1-138 1 122 1-108 1 107 1-102 1 88 1-96 1 110 1-95 1 89 1-83 1 81 1-76 1 72 1-3 1-85 1 84 1-78 1 74 1-68 1 62 1-62 1-36 1 126 1-118 1 107 1-106 1 106 1-95 1 94 1-123 1 162 1-152 1 125 1-113 1 104 1-97 1 91 1-83 1 108 1-103 1 85 1-80 1 60 1-58 1 52 1 55 1-187 1 171 1-164 1 162 1-136 1 130 1-119 1-9 1 133 1-109 1 94 1-92 1 92 1-75 1 59 1-105 1 141 1-140 1 126 1-122 1 119 1-113 1 106 1-3 1-92 1 74 1-62 1 60 1-58 1 55 1-51 1-12 1 85 1-76 1 75 1-75 1 70 1-65 1 64 1 16 1-135 1 124 1-95 1 93 1-82 1 77 1-67 1 123 1-142 1 135 1-126 1 97 1-97 1 84 1-78 1 114 1-135 1 118 1-112 1 105 1-94 1 81 1-67 1-36 1 120 1-110 1 109 1-97 1 92 1-83 1 75 1 18 1-117 1 114 1-106 1 104 1-104 1 88 1-80 1-20 1 110 1-101 1 99 1-95 1 94 1-83 1 79 1 44 1-193 1 179 1-151 1 148 1-122 1 117 1-105 1 121 1-166 1 152 1-130 1 129 1-119 1 112 1-110 1 15 1 93 1-91 1 89 1-87 1 72 1-70 1 67 1-117 1 158 1-133 1 107 1-96 1 94 1-91 1 86 1-111 1 115 1-96 1 95 1-85 1 80 1-72 1 67 1 16 1-112 1 111 1-99 1 97 1-97 1 93 1-79 1 106 1-174 1 168 1-117 1 106 1-89 1 87 1-81 1-40 1 128 1-113 1 112 1-106 1 103 1-89 1 77 1 16 1-99 1 91 1-91 1 89 1-84 1 75 1-72 1 97 1-96 1 66 1-63 1 62 1-60 1 58 1-54 1 87 1-141 1 124 1-116 1 109 1-104 1 102 1-83" stroke="#00f" stroke-width="5.6" stroke-linejoin="bevel"/>
<path transform="translate(380.500 0) scale(0.125)" d="M0 1194l1-427 1-36 1 443 1 148 1-504 1 516 1-5 1-120 1-228 1-195 1 526 1-470 1 89 1 376 1-372 1-129 1 414 1-367 1 410 1-450 1 148 1 350 1-352 1 274 1-242 1-157 1 131 1-168 1 501 1-494 1 425 1-430 1 174 1-140 1 113 1-141 1 168 1-143 1 123 1-184 1 215 1-174 1 151 1-181 1 162 1-136 1 134 1-173 1 202 1-182 1 168 1-184 1 146 1-115 1 119 1 283 1 109 1 81 1-52 1-538 1 174 1 304 1-329 1 298 1-126 1 92 1-269 1 375 1-363 1-168 1 138 1 50 1 223 1-225 1-136 1 111 1-111 1-133 1 511 1-249 1-215 1 174 1-135 1 112 1-136 1 614 1-101 1-495 1 520 1-90 1 72 1-500 1 436 1-397 1 477 1-520 1 563 1-513 1 101 1-145 1 150 1-149 1 653 1-479 1-190 1 168 1-154 1 554 1-179 1-230 1 370 1-331 1-197 1 181 1 383 1-218 1-291 1 94 1 316 1-482 1 224 1-197 1 416 1-607 1 367 1-162 1 155 1-179 1 188 1-147 1 147 1-162 1 117 1-87 1 104 1 18 1-163 1 139 1-116 1 92 1-75 1 97 1-116 1 492 1-339 1-155 1 130 1-167 1 134 1 441 1-148 1-518 1 98 1 154 1-130 1 148 1-158 1 477 1-479 1-24 1 225 1 327 1-331 1-203 1 192 1-156 1 135 1 274 1 118 1-181 1-243 1-139 1 378 1 120 1 33 1-542 1 647 1-633 1 432 1-416 1 455 1-36 1 177 1-451 1 272 1-314 1-166 1 168 1 345 1-348 1 344 1-481 1 206 1-191 1 142 1-136 1 159 1-128 1 145 1 11 1-295 1 240 1-123 1 171 1-138 1 410 1 118 1-399 1-180 1 133 1-93 1 137 1-173 1 161 1-267 1 83 1 197 1-171 1 117 1-104 1 123 1-148 1 150 1-144 1 193 1-178 1 170 1-184 1 188 1-139 1 101 1 342 1-298 1-133 1 125 1 300 1 93 1-241 1-175 1 347 1-341 1-179 1 175 1 350 1-382 1-100 1 116 1 49 1-199 1 173 1-265 1 682 1-577 1 144 1 432 1-391 1-210 1 519 1-47 1-318 1-95 1 151 1-148 1 385 1 91 1-337 1-165 1 536 1-516 1 383 1-401 1 644 1-683 1 516 1-462 1 134 1-182 1 214 1-237 1 14 1 566 1-530 1 157 1 376 1-364 1 290 1-329 1 36 1-192 1 163 1 362 1-339 1 304 1 6 1-457 1 536 1-128 1-249 1-147 1 587 1-190 1-280 1 177 1-338 1 171 1-166 1 156 1-147 1 136 1-106 1 124 1-3 1-155 1 417 1-381 1 119 1-116 1 83 1-79 1-80 1 444 1-484 1 540 1 31 1 106 1-596 1 111 1-115 1 514 1-482 1 123 1-106 1 86 1-133 1 162 1-179 1 177 1-170 1 117 1-78 1 112 1-111 1 77 1 83 1-198 1 185 1-158 1 142 1-137 1 135 1-116 1-70 1 204 1-162 1 138 1 408 1-431 1-138 1 151 1 17 1-195 1 156 1-152 1 190 1-141 1 108 1-143 1 207 1-180 1 150 1-118 1 473 1-484 1 106 1-112 1-33 1 172 1-162 1 327 1 82 1-256 1-136 1 130 1 37 1-167 1 587 1-585 1 131 1 359 1-26 1-436 1 306 1-377 1 152 1-124 1 490 1-82 1-517 1 104 1 181 1-169 1 394 1-506 1 565 1 113 1 111 1-189 1-66 1 70 1 17 1-498 1 522 1-65 1-303 1-159 1 152 1-202 1 505 1-450 1 120 1-140 1 558 1-31 1-354 1-178 1 132 1-92 1 120 1-136 1 452 1-461 1 142 1-193 1 178 1-129 1 140 1-160 1 144 1 339 1-498 1 184 1 331 1-342 1-118 1-92 1 82 1 115 1 44 1-183 1 144 1 381 1-362 1-154 1-87 1 127 1-52 1 183 1-151 1 127 1-107 1 104 1-128 1 119 1-166 1 202 1-184 1 152 1-167 1 169 1-123 1 491 1-340 1-215 1 205 1-143 1 104 1 359 1-338 1-124 1-47 1 181 1 192 1-205 1 273 1-299 1-136 1 171 1 288 1-436 1 182 1 380 1-411 1-212 1 593 1-480 1-67 1 335 1-289 1 89 1-98 1 391 1 44 1-325 1 285 1-418 1 131 1-125 1 666 1-144 1 36 1-562 1 149 1-179 1 172 1-141 1 333 1-323 1-102 1 499 1-430 1 432 1 203 1-171 1 64 1-364 1 212 1 19 1-388 1 539 1-499 1 111 1-143 1-104 1 151 1 111 1-190 1 201 1-193 1 167 1-115 1 123 1-169 1 163 1 240 1-193 1 424 1-430 1-127 1 100 1 343 1-321 1-205 1 195 1-167 1 157 1-171 1 153 1-156 1 183 1-193 1 179 1 270 1-271 1 332 1-358 1-112 1 107 1 241 1-347 1 144 1-110 1 90 1-113 1 118 1-119 1 149 1-208 1 473 1-413 1 99 1-139 1 164 1-246 1 500 1-3 1 160 1-538 1 127 1-159 1 457 1-458 1 416 1-236 1 320 1-374 1-113 1 161 1-183 1 139 1 31 1 311 1-347 1 265 1-279 1 415 1-377 1 332 1-319 1-155 1 135 1-99 1 96 1 285 1-275 1-116 1 128 1-188 1 601 1-583 1 163 1-148 1 521 1-12 1-630 1 293 1-216 1 185 1-173 1 176 1 264 1-290 1 41 1-161 1 160 1 311 1 32 1-473 1 397 1 203 1-438 1-213 1 174 1-150 1 170 1-183 1 180 1-131 1-47 1 184 1-149 1 113 1-105 1 141 1-142 1 115 1-172 1 193 1-144 1 108 1-154 1 349 1-313 1 415 1-442 1 191 1-174 1 162 1 284 1-278 1-133 1 111 1-177 1 198 1-145 1 524 1-542 1 124 1-151 1 138 1 228 1 151 1-481 1 112 1 255 1 23 1-399 1 371 1-11 1 177 1-125 1-25 1 27 1-385 1 118 1 247 1 40 1 48 1-51 1-434 1 149 1-123 1 157 1-207 1 668 1-672 1 555 1-535 1 540 1-522 1 491 1-482 1 377 1 74 1-463 1 110 1-233 1 260 1 218 1 69 1-266 1-176 1 351 1-344 1 517 1-511 1 510 1-492 1-19 1 178 1-131 1 101 1-112 1 106 1-121 1 453 1-514 1 217 1-212 1 193 1-171 1 180 1-183 1 162 1-204 1 213 1-194 1 175 1-139 1 150 1-175 1 135 1 63 1-181 1 172 1-209 1 186 1-141 1 133 1-126 1 162 1-177 1 138 1-105 1 144 1-141 1 109 1-107 1-45 1-77 1 687 1-206 1 83 1-303 1-140 1 480 1-36 1-533 1 172 1-149 1 177 1 321 1 88 1-598 1 226 1 232 1-249 1 254 1-278 1-122 1 119 1-120 1-33 1 174 1-159 1 121 1-90 1 113 1 291 1-3 1-467 1 216 1-202 1 350 1 148 1-146 1-343 1 485 1-66 1 66 1-348 1-142 1 178 1-128 1 92 1-148 1 11 1 179 1-157 1-87 1 92 1 103 1-83 1 91 1 51 1-204 1 182 1-129 1 101 1-137 1 174 1-158 1 157 1-251 1 208 1-106 1 104 1-115 1 150 1-158 1 194 1-198 1 150 1 366 1-582 1 78 1 149 1 403 1-95 1 38 1-473 1 153 1 339 1-349 1 285 1-271 1-193 1 447 1 10 1-298 1-114 1 140 1 330 1-38 1 66 1-365 1-170 1 117 1 331 1-321 1 312 1-45 1-402 1 188 1 292 1-576 1 511 1-247 1-139 1 463 1-500 1 176 1-161 1 122 1 439 1-426 1-118 1 144 1 404 1-93 1-51 1 43 1-482 1 470 1-430 1 559 1-400 1-205 1 203 1-203 1 146 1-117 1 176 1-148 1-49 1 206 1-160 1 106 1-136 1 582 1-786 1 573 1-202 1-244 1 227 1-118 1 86 1-126 1 143 1-106 1-126 1 290 1-193 1 136 1-119 1 169 1-187 1 172 1 5 1-201 1 145 1-92 1 103 1-151 1 191 1-147 1 172 1-202 1 143 1-86 1 125 1-160 1 444 1-405 1-68 1 215 1-168 1 163 1-175 1 150 1 365 1-399 1-152 1 171 1 271 1-321 1-117 1 163 1-148 1 148 1 35 1-182 1 159 1-108 1 90 1-109 1 114 1-122 1-47 1 192 1-135 1 93 1-98 1 383 1-386 1 114 1 28 1-204 1 393 1-448 1-80 1 162 1 129 1-103 1-31 1 194 1-144 1 141 1 299 1-338 1-94 1 119 1 316 1-486 1 152 1-136 1 518 1-62 1-5 1-14 1-462 1 211 1-179 1 532 1-530 1 138 1 297 1-288 1 261 1-265 1 349 1 31 1-608 1 581 1-34 1 105 1-571 1 167 1-126 1 438 1 38 1 88 1-564 1 427 1-501 1 200 1 264 1-303 1-158 1 426 1-388 1 100 1-498 1 371 1 421 1 38 1-37 1-389 1 132 1-142 1 150 1 239 1-294 1-139 1 616 1-623 1 183 1-156 1-13 1 191 1-135 1 81 1-109 1-114 1 90 1 147 1-150 1 182 1-180 1-102 1 119 1 126 1 332 1-345 1-160 1 196 1-195 1 149 1-146 1 157 1-109 1-103 1 271 1-185 1 462 1-428 1 145 1-135 1 96 1-98 1-59 1 510 1-483 1 434 1-106 1 57 1 2 1-226 1 349 1-535 1 207 1 422 1-450 1 372 1-373 1-134 1 157 1 634 1-331 1-463 1 409 1-404 1 139 1-141 1-51 1 526 1 27 1 3 1-525 1 131 1-136 1 162 1 239 1-232 1-161 1 124 1-110 1 523 1-121 1-289 1-166 1 197 1-158 1 142 1-140 1 107 1-136 1 140 1-119 1 191 1 218 1-245 1-146 1 484 1-482 1 427 1-467 1 536 1-497 1 158 1 345 1-5 1-526 1-55 1 61 1 175 1 497 1-169 1-28 1-351 1-81 1 128 1-167 1 191 1 221 1-245 1-165 1 147 1 340 1-351 1-110 1 390 1-361 1 106 1-103 1 108 1-112 1 82 1 44 1-277 1 231 1-140 1 182 1-178 1 135 1-132 1 452 1 211 1-498 1 280 1-317 1-195 1 199 1 356 1-553 1 254 1-189 1 480 1-433 1 443 1-453 1 389 1-264 1 295 1-333 1-106 1 88 1-86 1 131 1-154 1 172 1-160 1 569 1-92 1-323 1-137 1 114 1 262 1-440 1 209 1-203 1 147 1-99 1 114 1-109 1 99 1 32 1-172 1 156 1-111 1 119 1-125 1 82 1-101 1-14 1 394 1 22 1-250 1-125 1 157 1-151 1 129 1 9 1-191 1 168 1-122 1 135 1-151 1 151 1-177 1 186 1-188 1 494 1-141 1-210 1-120 1-188 1 751 1-1 1-401 1-183 1 174 1-173 1 526 1-515 1 165 1 10 1 281 1-33 1 4 1 18 1 120 1-138 1-390 1 141 1-200 1 147 1-116 1 143 1-167 1 178 1 346 1-4 1-37 1-20 1-409 1 441 1-470 1 195 1-180 1-19 1 178 1 181 1-194 1 320 1-39 1-425 1 425 1-271 1-172 1 166 1-132 1 128 1 366 1-361 1-145 1 136 1 327 1-366 1-125 1 158 1-151 1 126 1 379 1-331 1-206 1 201 1-190 1 147 1-155 1 184 1-252 1 618 1-363 1-177 1 166 1-152 1 106 1-133 1 179 1-161 1 198 1-142 1-115 1 731 1-511 1-102 1 131 1-185 1 193 1-300 1 252 1-91 1 83 1-91 1 136 1-210 1 221 1-195 1 179 1-185 1 153 1-144 1 190 1-226 1 214 1-184 1 145 1-210 1 217 1-156 1 139 1 341 1 73 1-514 1 363 1-369 1 140 1-152 1 551 1-618 1 243 1-190 1 188 1-191 1 145 1-127 1 147 1 33 1-225 1 216 1-193 1 167 1 411 1-390 1 153 1-327 1 171 1-136 1 135 1-124 1 103 1 240 1-224 1-173 1 191 1-158 1 132 1-124 1 135 1-139 1 106 1 32 1-175 1 149 1-101 1 439 1-468 1 108 1-103 1-55 1-90 1 117 1 487 1-459 1 130 1 214 1 360 1-556 1-195 1 185 1-164 1 133 1 284 1-289 1-145 1 521 1-111 1 115 1-468 1 515 1-101 1 22 1-431 1 448 1-92 1 155 1-437 1 322 1-295 1 597 1-236 1-317 1-184 1 601 1-182 1-242 1 297 1 44 1-46 1 19 1-484 1 169 1-144 1 121 1-105 1 106 1-137 1-32 1 188 1-149 1 111 1-146 1 150 1-134 1 155 1 25 1 146 1-161 1-176 1 143 1-136 1 162 1-141 1 165 1-276 1 269 1-137 1 95 1-97 1 552 1-561 1 156 1-208 1 189 1-131 1 146 1 253 1-27 1-485 1 254 1-172 1 134 1 375 1-138 1-468 1 227 1-107 1-48 1 167 1-125 1 98 1-127 1 105 1-115 1 156 1 26 1-181 1 437 1-420 1 125 1-141 1 510 1-494 1-7 1 184 1 398 1-106 1-665 1 700 1-108 1 92 1 42 1-73 1-346 1 441 1-616 1 54 1 616 1-120 1-512 1 179 1-153 1 505 1 34 1-439 1-106 1 150 1-157 1 192 1-142 1 108 1 303 1-73 1-385 1 413 1 178 1-159 1-262 1 326 1-326 1-135 1 142 1-215 1 215 1-164 1 126 1-108 1 127 1-107 1 616 1-622 1 122 1-193 1 484 1-438 1 363 1-382 1 152 1 185 1 209 1-30 1-352 1 369 1-373 1-124 1 105 1 355 1 192 1-222 1-55 1-279 1 396 1-382 1-141 1 164 1 20 1-180 1-103 1 678 1-441 1 388 1-13 1-490 1 132 1-176 1 539 1-493 1 102 1 539 1-126 1-552 1 190 1-201 1 158 1-128 1 367 1-386 1 435 1-426 1 171 1-163 1 132 1-129 1 130 1-96 1 83 1-108 1-66 1 246 1-178 1 164 1-176 1 182 1-133 1 118 1-226 1 59 1 134 1-85 1 138 1-138 1 314 1-333 1 118 1-188 1 429 1 99 1-112 1-368 1 137 1-181 1 197 1-198 1 165 1 311 1-522 1 660 1-451 1-114 1 155 1 288 1-59 1-370 1 124 1-135 1 145 1 251 1-250 1 314 1-45 1-422 1 105 1-109 1 321 1-338 1 12 1 168 1-124 1 74 1-99 1 362 1-348 1 659 1-717 1 182 1 313 1-359 1-132 1 169 1 272 1-491 1 43 1 185 1-137 1 92 1-90 1 518 1-22 1 17 1-19 1-343 1-127 1 97 1-96 1 322 1 28 1-258 1 363 1 53 1-10 1-219 1 72 1-394 1 367 1-334 1 527 1-584 1 177 1 254 1-257 1 328 1-612 1 648 1-347 1-205 1 535 1-526 1 158 1-109 1 123 1-145 1-39 1 196 1-143 1 93 1 615 1-594 1-125 1 152 1-170 1-112 1 127 1 425 1-406 1 97 1-116 1 155 1-179 1 183 1-164 1 126 1 385 1-354 1-144 1 99 1-121 1 193 1-140 1-92 1 54 1 131 1 225 1-181 1-4 1-221 1 165 1 439 1-416 1-146 1 120 1-150 1-4 1 192 1-180 1 148 1-105 1 96 1-107 1 138 1-138 1 176 1-167 1 139 1 360 1-338 1-159 1 140 1-184 1 195 1-164 1 157 1-184 1 134 1-126 1 484 1-302 1-198 1 179 1 289 1-277 1-189 1 147 1-93 1 135 1-163 1 147 1 348 1-371 1 404 1-401 1-108 1 441 1-281 1-179 1 178 1-141 1 293 1 98 1-285 1 22 1-185 1 169 1-162 1 124 1 350 1-337 1-90 1-56 1 176 1-164 1-105 1 108 1 108 1-85 1 100 1-126 1 203 1-142 1 119 1-138 1 151 1-161 1-88 1 61 1 182 1 258 1-273 1-125 1 96 1-108 1 125 1-371 1 750 1-527 1 151 1-136 1 97 1-87 1 109 1 49 1-216 1 173 1 298 1-288 1 406 1-670 1 614 1 107 1-243 1-327 1 372 1-414 1 133 1 467 1-458 1 38 1-183 1 143 1-224 1 245 1-159 1 443 1-44 1 125 1-351 1-256 1 219 1-138 1 146 1-104 1 515 1-558 1 160 1-143 1 117 1 381 1-136 1-375 1 388 1-191 1-184 1 374 1 230 1-456 1-101 1 395 1-409 1 120 1-181 1 158 1-127 1 134 1-145 1 155 1-256 1 426 1-166 1 278 1-315 1-117 1 147 1-131 1 130 1-164 1 185 1-141 1 527 1-555 1 499 1-122 1-251 1 51 1 269 1-278 1-194 1 183 1-168 1 136 1-112 1 146 1-183 1 176 1-136 1 93 1-130 1 145 1 479 1-414 1-210 1 194 1 306 1-4 1 48 1-341 1-167 1 162 1-197 1 145 1-125 1 176 1-181 1 140 1-148 1 5 1-65 1 73 1 143 1-148 1 145 1-128 1 134 1-184 1 189 1-149 1 120 1-129 1 119 1-101 1 108 1-145 1 191 1-156 1 103 1-118 1 162 1-148 1 143 1-145 1 172 1-142 1 111 1-116 1 105 1-100 1-265 1 778 1-61 1-323 1-164 1 172 1-153 1 108 1 429 1-627 1 50 1 140 1-87 1 95 1-137 1 542 1-551 1 184 1-204 1 414 1 142 1-134 1 49 1-294 1-170 1 206 1-175 1 141 1 226 1-217 1-129 1 482 1-494 1 658 1-648 1 138 1-220 1 201 1 311 1-318 1-93 1-68 1 515 1-461 1 85 1 231 1-236 1-112 1 110 1-128 1 371 1 165 1-386 1 284 1 247 1-255 1-292 1 348 1-7 1-100 1-374 1 188 1 246 1 83 1-43 1-489 1 201 1-197 1 588 1-45 1-395 1 370 1-354 1-153 1 456 1-441 1 155 1-162 1 166 1-130 1 119" stroke="#f00" stroke-width="5.6" stroke-linejoin="bevel"/>
<path transform="translate(380.500 0) scale(0.125)" d="M0 1106l1-162 1 160 1-138 1 131 1-122 1 113 1-97 1 94 1-107 1 105 1-91 1 90 1-89 1 80 1-79 1-47 1 223 1-219 1 166 1-163 1 160 1-143 1 119 1 34 1-185 1 157 1-154 1 150 1-137 1 136 1-107 1 118 1-147 1 145 1-136 1 135 1-127 1 118 1-115 1 137 1-121 1 118 1-117 1 110 1-107 1 96 1-95 1 135 1-174 1 143 1-109 1 105 1-104 1 86 1-82 1-25 1 139 1-138 1 138 1-134 1 127 1-120 1 103 1-103 1 123 1-115 1 108 1-105 1 100 1-87 1 75 1-147 1 209 1-168 1 136 1-132 1 128 1-101 1 87 1-143 1 184 1-175 1 173 1-138 1 123 1-121 1 111 1-141 1 175 1-163 1 157 1-155 1 133 1-121 1 110 1-105 1 93 1-90 1 86 1-84 1 82 1-79 1 66 1-130 1 182 1-160 1 145 1-136 1 129 1-122 1 109 1 27 1-162 1 151 1-126 1 122 1-114 1 95 1-81 1-27 1 151 1-138 1 115 1-104 1 93 1-90 1 85 1 4 1-106 1 99 1-93 1 92 1-86 1 83 1-79 1-75 1 178 1-132 1 126 1-115 1 102 1-96 1 93 1 70 1-162 1 121 1-114 1 109 1-103 1 101 1-93 1 98 1-153 1 148 1-140 1 130 1-121 1 111 1-91 1-12 1 119 1-109 1 104 1-101 1 97 1-83 1 80 1-151 1 216 1-206 1 179 1-166 1 158 1-152 1 138 1-12 1-151 1 146 1-90 1 86 1-84 1 75 1-63 1-52 1 125 1-116 1 109 1-98 1 93 1-76 1 75 1 13 1-99 1 96 1-94 1 92 1-81 1 78 1-76 1 137 1-205 1 184 1-174 1 171 1-162 1 153 1-131 1 165 1-195 1 193 1-156 1 154 1-135 1 116 1-114 1 132 1-164 1 155 1-149 1 132 1-105 1 89 1-83 1 106 1-143 1 141 1-138 1 136 1-119 1 115 1-112 1-12 1 120 1-99 1 84 1-82 1 75 1-69 1 62 1 20 1-88 1 79 1-78 1 73 1-71 1 58 1-51 1 96 1-138 1 138 1-137 1 134 1-130 1 107 1-87 1 101 1-110 1 105 1-94 1 83 1-78 1 70 1-63 1-40 1 140 1-132 1 127 1-120 1 120 1-106 1 90 1-151 1 205 1-198 1 186 1-179 1 146 1-121 1 114 1-116 1 138 1-137 1 132 1-118 1 113 1-103 1 98 1 7 1-122 1 120 1-115 1 110 1-100 1 92 1-89 1 95 1-118 1 109 1-106 1 105 1-96 1 91 1-85 1 107 1-114 1 99 1-88 1 86 1-77 1 67 1-61 1-37 1 126 1-123 1 122 1-108 1 106 1-96 1 84 1-133 1 155 1-133 1 123 1-119 1 104 1-92 1 86 1-80 1 88 1-82 1 74 1-74 1 73 1-66 1 56 1 24 1-120 1 119 1-104 1 382 1-377 1 85 1-80 1 131 1-146 1 144 1-142 1 125 1-123 1 95 1-87 1-27 1 126 1-116 1 116 1-107 1 87 1-81 1 79 1-133 1 185 1-172 1 168 1-148 1 140 1-135 1 123 1-5 1-132 1 123 1-102 1 96 1-91 1 85 1-68 1-51 1 180 1-179 1 177 1-170 1 162 1-148 1 134 1-151 1 165 1-138 1 108 1-102 1 101 1-91 1 86 1-120 1 133 1-112 1 98 1-93 1 80 1-75 1 62 1 31 1-131 1 121 1-108 1 101 1-94 1 88 1-82 1-3 1 122 1-118 1 111 1-104 1 93 1-87 1 78 1-116 1 186 1-179 1 137 1-131 1 128 1-126 1 123 1 34 1-179 1 163 1-146 1 141 1-141 1 115 1-107 1 164 1-158 1 129 1-128 1 119 1-116 1 105 1-95 1-17 1 164 1-157 1 103 1-103 1 101 1-90 1 77 1 77 1-203 1 164 1-149 1 145 1-143 1 139 1-135 1 120 1-105 1 94 1-92 1 91 1-79 1 76 1-72 1-32 1 139 1-135 1 133 1-127 1 124 1-118 1 104 1-114 1 111 1-104 1 94 1-86 1 85 1-85 1 85 1-119 1 177 1-166 1 126 1-109 1 102 1-98 1 86 1-125 1 212 1-200 1 112 1-98 1 96 1-94 1 91 1-162 1 207 1-144 1 125 1-121 1 116 1-106 1 93 1-151 1 164 1-119 1 116 1-102 1 96 1-94 1 92 1 22 1-164 1 148 1-123 1 121 1-116 1 102 1-73 1 92 1-123 1 115 1-109 1 108 1-98 1 95 1-90 1-71 1 204 1-154 1 141 1-137 1 136 1-128 1 110 1-84 1 94 1-92 1 86 1-79 1 65 1-64 1 46 1 31 1-110 1 92 1-89 1 84 1-78 1 75 1-65 1 158 1-182 1 113 1-95 1 85 1-79 1 75 1-72 1 108 1-141 1 111 1-109 1 109 1-108 1 103 1-99 1 118 1-114 1 98 1-91 1 89 1-87 1 81 1-78 1-10 1 102 1-100 1 86 1-84 1 77 1-71 1 69 1 43 1-159 1 150 1-137 1 135 1-134 1 127 1-120 1-45 1 199 1-153 1 147 1-143 1 136 1-132 1 127 1-174 1 176 1-150 1 140 1-132 1 125 1-103 1 92 1-96 1 90 1-78 1 75 1-72 1 70 1-62 1 59 1-108 1 157 1-150 1 131 1-126 1 119 1-102 1 97 1-135 1 173 1-158 1 153 1-150 1 136 1-117 1 107 1-116 1 161 1-152 1 122 1-121 1 120 1-108 1 89 1-105 1 134 1-132 1 118 1-117 1 101 1-95 1 71 1-100 1 166 1-163 1 129 1-129 1 122 1-113 1 109 1 150 1-141 1-100 1 91 1-91 1 91 1-82 1 78 1 15 1-133 1 126 1-125 1 123 1-104 1 101 1-84 1-95 1 277 1-249 1 208 1-197 1 187 1-170 1 134 1-114 1 172 1-166 1 157 1-154 1 92 1-89 1 83 1 34 1-132 1 129 1-128 1 119 1-108 1 103 1-87 1-19 1 116 1-111 1 88 1-86 1 82 1-74 1 66 1-93 1 116 1-107 1 102 1-101 1 99 1-98 1 86 1-85 1 160 1-159 1 125 1-116 1 111 1-109 1 97 1 4 1-145 1 133 1-112 1 109 1-96 1 82 1-77 1 131 1-163 1 135 1-109 1 102 1-95 1 86 1-84 1-16 1 126 1-121 1 97 1-95 1 89 1-79 1 69 1 15 1-86 1 84 1-79 1 75 1-75 1 63 1-61 1 96 1-113 1 105 1-92 1 84 1-76 1 70 1-67 1 80 1-124 1 120 1-87 1 85 1-85 1 75 1-63 1 93 1-126 1 105 1-101 1 97 1-94 1 89 1-78 1-14 1 152 1-146 1 91 1-83 1 82 1-71 1 67 1 21 1-110 1 104 1-101 1 94 1-87 1 76 1-68 1-39 1 135 1-131 1 118 1-116 1 109 1-94 1 90 1 47 1-160 1 158 1-143 1 134 1-124 1 94 1-88 1-85 1 244 1-214 1 177 1-175 1 162 1-151 1 136 1-103 1 108 1-103 1 93 1-89 1 84 1-76 1 68 1 82 1-178 1 157 1-153 1 133 1-125 1 110 1-108 1-36 1 192 1-190 1 174 1-174 1 172 1-160 1 143 1 45 1-189 1 114 1-106 1 102 1-85 1 79 1-72 1 97 1-119 1 118 1-111 1 110 1-108 1 92 1-81 1 155 1-202 1 183 1-159 1 140 1-139 1 113 1-108 1 14 1 111 1-110 1 95 1-88 1 83 1-79 1 65 1-98 1 218 1-213 1 139 1-136 1 136 1-119 1 101 1-158 1 171 1-133 1 130 1-127 1 118 1-111 1 86 1-86 1 99 1-98 1 96 1-94 1 85 1-78 1 78 1 30 1-159 1 157 1-146 1 146 1-123 1 115 1-100 1-7 1 115 1-111 1 104 1-103 1 103 1-99 1 84 1-134 1 193 1-176 1 132 1-119 1 109 1-96 1 94 1 67 1-183 1 152 1-132 1 110 1-109 1 98 1-91 1-1 1 96 1-91 1 84 1-81 1 80 1-77 1 68 1 58 1-142 1 135 1-133 1 120 1-118 1 98 1-95 1-39 1 138 1-117 1 114 1-112 1 102 1-90 1 85 1-111 1 133 1-112 1 102 1-101 1 98 1-88 1 83 1 17 1-158 1 153 1-146 1 143 1-111 1 96 1-85 1 103 1-105 1 94 1-84 1 81 1-74 1 67 1-60 1 66 1-137 1 133 1-94 1 94 1-74 1 68 1-67 1-11 1 104 1-100 1 94 1-93 1 82 1-77 1 65 1-148 1 213 1-174 1 161 1-154 1 153 1-146 1 130 1 1 1-124 1 108 1-91 1 87 1-85 1 73 1-68 1-71 1 190 1-143 1 114 1-112 1 106 1-96 1 88 1 192 1-293 1 89 1-62 1 60 1-53 1 50 1-47 1 99 1-128 1 122 1-106 1 105 1-101 1 83 1-81 1 106 1-192 1 176 1-137 1 133 1-123 1 113 1-101 1 16 1 77 1-69 1 68 1-65 1 64 1-61 1 58 1 15 1-99 1 96 1-77 1 73 1-70 1 66 1-63 1-41 1 158 1-155 1 133 1-129 1 101 1-90 1 82 1 41 1-172 1 162 1-133 1 128 1-109 1 103 1-98 1 105 1-100 1 93 1-92 1 84 1-80 1 73 1-62 1 122 1-171 1 153 1-142 1 140 1-132 1 108 1-103 1-12 1 113 1-101 1 93 1-84 1 80 1-78 1 69 1 60 1-159 1 122 1-119 1 118 1-108 1 100 1-89 1-20 1 144 1-143 1 125 1-123 1 117 1-108 1 101 1 9 1-119 1 114 1-109 1 96 1-83 1 78 1-65 1-44 1 144 1-122 1 110 1-109 1 108 1-101 1 97 1-114 1 118 1-103 1 102 1-93 1 91 1-85 1 70 1 39 1-141 1 140 1-126 1 123 1-121 1 113 1-107 1-45 1 151 1-121 1 116 1-112 1 106 1-100 1 78 1-98 1 138 1-133 1 120 1-116 1 110 1-106 1 104 1-6 1-79 1 71 1-69 1 68 1-68 1 57 1-55 1-20 1 137 1-129 1 113 1-110 1 109 1-103 1 85 1 7 1-121 1 110 1-94 1 82 1-77 1 72 1-67 1 110 1-154 1 152 1-119 1 112 1-111 1 102 1-90 1 89 1-116 1 112 1-101 1 97 1-96 1 80 1-74 1 119 1-140 1 136 1-123 1 116 1-110 1 102 1-93 1 100 1-136 1 129 1-125 1 119 1-111 1 106 1-99 1 135 1-174 1 139 1-118 1 111 1-92 1 85 1-67 1-26 1 113 1-106 1 103 1-89 1 87 1-86 1 76 1-123 1 178 1-163 1 161 1-141 1 139 1-134 1 108 1-122 1 141 1-140 1 125 1-120 1 113 1-99 1 92 1-2 1-113 1 107 1-104 1 101 1-88 1 84 1-75 1-55 1 153 1-136 1 122 1-117 1 114 1-101 1 97 1 69 1-177 1 136 1-125 1 107 1-97 1 94 1-86 1-18 1 129 1-125 1 110 1-106 1 105 1-101 1 85 1 27 1-135 1 125 1-115 1 100 1-88 1 86 1-77 1-22 1 112 1-92 1 91 1-88 1 82 1-82 1 72 1-86 1 104 1-99 1 99 1-89 1 86 1-85 1 83 1-131 1 172 1-142 1 140 1 132 1-156 1-106 1 105 1-125 1 99 1-94 1 92 1-88 1 85 1-65 1 57 1-68 1 96 1-95 1 89 1-86 1 84 1-77 1 65 1-130 1 324 1-313 1 161 1-155 1 151 1-126 1 122 1-4 1-124 1 107 1-104 1 102 1-85 1 73 1-70 1-31 1 159 1-150 1 135 1-121 1 115 1-108 1 101 1 41 1-192 1 168 1-165 1 161 1-149 1 130 1-120 1 141 1-145 1 141 1-139 1 135 1-109 1 96 1-86 1-56 1 159 1-130 1 110 1-107 1 106 1-104 1 99 1-198 1 249 1-199 1 196 1 45 1-48 1-150 1 124 1-8 1-119 1 115 1-104 1 102 1-96 1 89 1-81 1-35 1 151 1-119 1 115 1-110 1 108 1-105 1 74 1-80 1 125 1-124 1 118 1-112 1 98 1-94 1 80 1 7 1-127 1 117 1-106 1 105 1-98 1 85 1-78 1 137 1-186 1 176 1-160 1 149 1-140 1 140 1-125 1-2 1 147 1-141 1 114 1-111 1 107 1-105 1 92 1-132 1 139 1-133 1 133 1-116 1 108 1-92 1 87 1-116 1 152 1-140 1 132 1-131 1 120 1-116 1 107 1 5 1-110 1 103 1-101 1 93 1-87 1 78 1-75 1-32 1 130 1-117 1 113 1-90 1 80 1-78 1 77 1-90 1 131 1-125 1 119 1-112 1 105 1-92 1 62 1 12 1-101 1 98 1-96 1 86 1-76 1 72 1-68 1-12 1 105 1-103 1 93 1-90 1 87 1-73 1 57 1 41 1-125 1 114 1-113 1 106 1-102 1 93 1-85 1-15 1 138 1-127 1 103 1-102 1 99 1-95 1 82 1 19 1-157 1 151 1-113 1 113 1-113 1 106 1-86 1-25 1 116 1-113 1 106 1-99 1 95 1-80 1 76 1 28 1-121 1 115 1-105 1 102 1-100 1 98 1-88 1 117 1-156 1 130 1-122 1 120 1-110 1 105 1-102 1 101 1-95 1 94 1-89 1 82 1-79 1 78 1-68 1 112 1-149 1 145 1-141 1 134 1-133 1 119 1-109 1-7 1 115 1-110 1 105 1-88 1 80 1-73 1 64 1-89 1 121 1-113 1 100 1-98 1 93 1-83 1 77 1 30 1-134 1 127 1-119 1 108 1-102 1 98 1-90 1 90 1-91 1 81 1-79 1 78 1-77 1 70 1-62 1 109 1-154 1 149 1-133 1 115 1-111 1 104 1-101 1 131 1-164 1 159 1-146 1 145 1-133 1 130 1-121 1 127 1-175 1 170 1-154 1 142 1-136 1 130 1-111 1 98 1-92 1 90 1-77 1 75 1-71 1 64 1-55 1 78 1-92 1 88 1-86 1 77 1-76 1 71 1-66 1 109 1-166 1 156 1-132 1 121 1-113 1 104 1-97 1 121 1-119 1 118 1-111 1 97 1-96 1 81 1-70 1 97 1-118 1 116 1-112 1 99 1-90 1 73 1-67 1 89 1-125 1 114 1-91 1 87 1-83 1 74 1-70 1 118 1-159 1 152 1-141 1 137 1-134 1 128 1-121 1-25 1 195 1-193 1 168 1-147 1 131 1-125 1 106 1-113 1 123 1-121 1 113 1-112 1 106 1-94 1 85 1-95 1 111 1-105 1 101 1-98 1 82 1-76 1 67 1 23 1-109 1 105 1-103 1 94 1-88 1 80 1-72 1 89 1-134 1 133 1-110 1 110 1-108 1 102 1-100 1-31 1 205 1-172 1 119 1-114 1 106 1-99 1 86 1 31 1-152 1 152 1-148 1 132 1-117 1 103 1-98 1 130 1-166 1 162 1-133 1 128 1-126 1 108 1-98 1-58 1 180 1-138 1 129 1-129 1 125 1-118 1 99 1-103 1 161 1-158 1 116 1-115 1 104 1-88 1 81 1-102 1 104 1-104 1 103 1-83 1 83 1-72 1 62 1 70 1-176 1 153 1-147 1 145 1-141 1 131 1-114 1-6 1 155 1-145 1 144 1-142 1 116 1-113 1 110 1-134 1 134 1-120 1 119 1-117 1 106 1-100 1 92 1-98 1 108 1-108 1 101 1-98 1 97 1-90 1 81 1-79 1 116 1-114 1 98 1-95 1 83 1-79 1 70 1 38 1-155 1 144 1-139 1 135 1-117 1 109 1-94 1-25 1 126 1-121 1 108 1-100 1 96 1-87 1 70 1-97 1 137 1-132 1 128 1-123 1 119 1-106 1 91 1 13 1-115 1 113 1-94 1 87 1-87 1 84 1-83 1-25 1 126 1-101 1 99 1-95 1 91 1-87 1 67 1 45 1-167 1 142 1-131 1 129 1-120 1 106 1-80 1-30 1 123 1-95 1 87 1-84 1 81 1-73 1 66 1 13 1-144 1 140 1-115 1 102 1-101 1 99 1-84 1 108 1-116 1 101 1-93 1 89 1-87 1 84 1-78 1-47 1 147 1-102 1 98 1-98 1 96 1-94 1 86 1 13 1-92 1 91 1-88 1 74 1-74 1 71 1-67 1-56 1 160 1-139 1 121 1-112 1 106 1-96 1 87 1-120 1 173 1-170 1 152 1-126 1 98 1-93 1 85 1-137 1 164 1-125 1 120 1-118 1 113 1-102 1 91 1-115 1 141 1-129 1 109 1-108 1 101 1-84 1 83 1-106 1 124 1-109 1 104 1-99 1 99 1-95 1 89 1-122 1 142 1-132 1 126 1-126 1 123 1-105 1 88 1 39 1-144 1 137 1-133 1 127 1-121 1 109 1-100 1-36 1 137 1-117 1 113 1-108 1 101 1-92 1 89 1 35 1-170 1 168 1-164 1 158 1-133 1 114 1-107 1 120 1-120 1 94 1-90 1 87 1-77 1 75 1-72 1-75 1 180 1-143 1 127 1-126 1 125 1-113 1 111 1-115 1 136 1-133 1 119 1-102 1 95 1-90 1 82 1 31 1-149 1 141 1-120 1 119 1-118 1 110 1-100 1 145 1-198 1 174 1-128 1 107 1-98 1 92 1-85 1 76 1-95 1 94 1-91 1 309 1-301 1 80 1-71 1 92 1-131 1 119 1-111 1 110 1-104 1 98 1-89 1-40 1 172 1-145 1 132 1-111 1 89 1-79 1 70 1 39 1-203 1 202 1-160 1 159 1-155 1 143 1-138 1 113 1-106 1 105 1-96 1 95 1-78 1 69 1-62 1 127 1-152 1 120 1-112 1 109 1-108 1 93 1-81 1-41 1 146 1-120 1 118 1 99 1-111 1-86 1 81 1-126 1 165 1-143 1 136 1-133 1 120 1-110 1 87" stroke="#00f" stroke-width="5.6" stroke-linejoin="bevel"/>
<path transform="translate(43.500 0) scale(0.125)" d="M0 3085l1 349 1-340 1 329 1-323 1 305 1-298 1 287 1-445 1 524 1-415 1 391 1-378 1 366 1-328 1 321 1-443 1 574 1-511 1 493 1-482 1 427 1-382 1 347 1-381 1 440 1-424 1 368 1-352 1 331 1-322 1 303 1 137 1-574 1 476 1-460 1 445 1-432 1 422 1-356 1-144 1 633 1-611 1 545 1-502 1 448 1-405 1 364 1-440 1 515 1-387 1 376 1-364 1 332 1-323 1 299 1-374 1 485 1-481 1 439 1-433 1 409 1-362 1 348 1 213 1-719 1 518 1-396 1 396 1-372 1 324 1-284 1 359 1-472 1 458 1-440 1 416 1-372 1 334 1-299 1 296 1-449 1 435 1-366 1 359 1-356 1 345 1-271 1-170 1 733 1-674 1 422 1-371 1 351 1-327 1 301 1-330 1 453 1-402 1 401 1-395 1 384 1-369 1 325 1-502 1 565 1-494 1 404 1-343 1 323 1-293 1 285 1 84 1-485 1 478 1-435 1 401 1-345 1 339 1-318 1-50 1 449 1-435 1 336 1-334 1 332 1-303 1 295 1-379 1 497 1-468 1 447 1-429 1 408 1-371 1 352 1 43 1-610 1 606 1-555 1 540 1-439 1 411 1-363 1 407 1-486 1 480 1-395 1 356 1-349 1 315 1-287 1 356 1-551 1 549 1-435 1 384 1-380 1 379 1-370 1 3 1 555 1-509 1 401 1-397 1 388 1-380 1 311 1-363 1 399 1-390 1 385 1-379 1 347 1-310 1 289 1-398 1 432 1-385 1 365 1-361 1 345 1-303 1 262 1-524 1 628 1-433 1 413 1-385 1 375 1-362 1 326 1-466 1 771 1-694 1 638 1-607 1 594 1-549 1 361 1 206 1-749 1 637 1-559 1 435 1-386 1 351 1-312 1-21 1 471 1-421 1 353 1-330 1 309 1-297 1 653 1-826 1 588 1-519 1 501 1-498 1 493 1-447 1 404 1-23 1-352 1 320 1-305 1 292 1-282 1 222 1-190 1-105 1 436 1-412 1 369 1-348 1 330 1-314 1 239 1-393 1 590 1-559 1 559 1-481 1 411 1-393 1 365 1 54 1-443 1 422 1-403 1 390 1-384 1 303 1-293 1-176 1 513 1-421 1 401 1-368 1 366 1-342 1 285 1 351 1-785 1 640 1-510 1 426 1-420 1 388 1-364 1 552 1-593 1 388 1-332 1 315 1-309 1 302 1-282 1 405 1-487 1 402 1-318 1 298 1-294 1 258 1-243 1-138 1 523 1-513 1 506 1-479 1 445 1-404 1 348 1 128 1-603 1 587 1-535 1 516 1-502 1 457 1-398 1 475 1-550 1 500 1-476 1 468 1-465 1 432 1-396 1-16 1 347 1-302 1 296 1-286 1 279 1-248 1 234 1 47 1-490 1 468 1-335 1 330 1-327 1 308 1-288 1-114 1 566 1-528 1 501 1-476 1 460 1-442 1 418 1-698 1 282 1 362 1-348 1 312 1-266 1 260 1-249 1-91 1 432 1-430 1 429 1-408 1 373 1-326 1 301 1-473 1 561 1-492 1 476 1-437 1 383 1-339 1 298 1-348 1 579 1-568 1 521 1-517 1 456 1-437 1 405 1 141 1-651 1 623 1-582 1 488 1-466 1 396 1-353 1-261 1 697 1-549 1 520 1-485 1 465 1-428 1 404 1 45 1-556 1 555 1-424 1 409 1-381 1 350 1-329 1-166 1 596 1-533 1 512 1-511 1 503 1-480 1 440 1-620 1 678 1-518 1 466 1-452 1 400 1-382 1 374 1-458 1 598 1-466 1 379 1-376 1 375 1-339 1 323 1-503 1 605 1-601 1 573 1-552 1 535 1-487 1 454 1-674 1 707 1-651 1 609 1-444 1 434 1-374 1 358 1 212 1-570 1 549 1-532 1 365 1-360 1 357 1-349 1 590 1-827 1 677 1-611 1 602 1-548 1 516 1-463 1-79 1 634 1-555 1 527 1-523 1 517 1-514 1 417 1 48 1-453 1 420 1-419 1 350 1-327 1 300 1-271 1-28 1 440 1-425 1 304 1-298 1 272 1-239 1 221 1-425 1 568 1-489 1 465 1-454 1 451 1-404 1 390 1 119 1-622 1 612 1-574 1 550 1-535 1 467 1-453 1-55 1 610 1-561 1 454 1-405 1 379 1-358 1 346 1 13 1-461 1 458 1-398 1 350 1-348 1 333 1-277 1 415 1-616 1 539 1-446 1 439 1-404 1 396 1-357 1 493 1-630 1 592 1-558 1 551 1-485 1 429 1-409 1-42 1 543 1-532 1 492 1-468 1 405 1-369 1 339 1-393 1 388 1-379 1 373 1-364 1 349 1-330 1 317 1 92 1-391 1 339 1-336 1 322 1-315 1 305 1-293 1 387 1-505 1 398 1-337 1 337 1-307 1 286 1-255 1 423 1-532 1 515 1-495 1 486 1-447 1 391 1-365 1-126 1 566 1-500 1 445 1-422 1 401 1-371 1 333 1-505 1 603 1-527 1 480 1-456 1 412 1-388 1 369 1-400 1 487 1-466 1 462 1-427 1 418 1-376 1 298 1-376 1 557 1-541 1 516 1-491 1 371 1-342 1 311 1 124 1-482 1 381 1-330 1 326 1-317 1 246 1-235 1 483 1-649 1 560 1-536 1 486 1-367 1 342 1-315 1 343 1-559 1 542 1-504 1 501 1-336 1 313 1-286 1 387 1-466 1 386 1-378 1 365 1-332 1 314 1-276 1 361 1-417 1 416 1-408 1 382 1-373 1 319 1-315 1 300 1-302 1 298 1-279 1 261 1-251 1 227 1-216 1 342 1-434 1 395 1-386 1 346 1-277 1 261 1-247 1-89 1 567 1-549 1 507 1-505 1 398 1-351 1 272 1 95 1-427 1 389 1-373 1 372 1-320 1 300 1-293 1-123 1 429 1-421 1 416 1 344 1-347 1-355 1 318 1-367 1 457 1-415 1 415 1-402 1 361 1-349 1 335 1-379 1 543 1-510 1 481 1-475 1 465 1-446 1 347 1 80 1-458 1 363 1-362 1 319 1-316 1 286 1-282 1 349 1-461 1 449 1-412 1 405 1-372 1 351 1-329 1-301 1 180 1 436 1-307 1 297 1-271 1 260 1-246 1 335 1-542 1 536 1-402 1 401 1-370 1 358 1-352 1-38 1 545 1-504 1 409 1-403 1 356 1-316 1 283 1 186 1-533 1 373 1-331 1 313 1-309 1 237 1-218 1 440 1-584 1 412 1-281 1 272 1-247 1 231 1-216 1 309 1-441 1 431 1-355 1 316 1-313 1 284 1-253 1-55 1 335 1-296 1 292 1-258 1 246 1-229 1 228 1 120 1-544 1 472 1-332 1 269 1-244 1 199 1-183 1 340 1-416 1 365 1-354 1 321 1-305 1 271 1-231 1 659 1-301 1-384 1 359 1-747 1 743 1-332 1 320 1-62 1-333 1 332 1-298 1 286 1-284 1 268 1-234 1 353 1-498 1 468 1-437 1 417 1-376 1 337 1-306 1 347 1-433 1 381 1-335 1 308 1-293 1 279 1-244 1-119 1 642 1-586 1 491 1-473 1 404 1-391 1 315 1 196 1-643 1 527 1-419 1 407 1-376 1 326 1-302 1-73 1 514 1-475 1 472 1-458 1 375 1-354 1 325 1 57 1-515 1 428 1-387 1 381 1-359 1 331 1-302 1-55 1 485 1-431 1 366 1-334 1 316 1-296 1 264 1 73 1-491 1 483 1-334 1 300 1-298 1 280 1-262 1-242 1 665 1-478 1 425 1-423 1 378 1-360 1 309 1 134 1-493 1 464 1-422 1 389 1-381 1 290 1-286 1-13 1 289 1-265 1 253 1-244 1 238 1-225 1 212 1 99 1-421 1 386 1-385 1 369 1-337 1 317 1-263 1-187 1 656 1-632 1 516 1-468 1 451 1-371 1 365 1 33 1-505 1 491 1-466 1 464 1-442 1 396 1-337 1-57 1 545 1-510 1 439 1-423 1 416 1-401 1 360 1 83 1-464 1 386 1-383 1 377 1-361 1 285 1-270 1 507 1-566 1 547 1-542 1 448 1-416 1 325 1-301 1 349 1-370 1 354 1-352 1 344 1-330 1 309 1-298 1 444 1-519 1 473 1-472 1 408 1-360 1 325 1-292 1 371 1-471 1 430 1-357 1 355 1-353 1 322 1-303 1-96 1 444 1-419 1 408 1-404 1 362 1-319 1 308 1-375 1 472 1-412 1 388 1-385 1 374 1-360 1 321 1-370 1 568 1-555 1 371 1-365 1 357 1-335 1 307 1 202 1-736 1 699 1-587 1 577 1-574 1 519 1-443 1-17 1 560 1-542 1 504 1-482 1 434 1-395 1 349 1 42 1-499 1 496 1-494 1 491 1-474 1 420 1-346 1-40 1 410 1-396 1 384 1-378 1 376 1-361 1 312 1 111 1-598 1 525 1-393 1 378 1-327 1 311 1-268 1-50 1 368 1-354 1 277 1-242 1 226 1-225 1 221 1-328 1 372 1-356 1 314 1-313 1 311 1-268 1 243 1 156 1-502 1 500 1-408 1 372 1-358 1 325 1-317 1 350 1-369 1 338 1-322 1 314 1-310 1 285 1-255 1 277 1-412 1 403 1-356 1 343 1-308 1 285 1-268 1-11 1 391 1-356 1 321 1-317 1 254 1-227 1 213 1-327 1 581 1-538 1 441 1-413 1 413 1-405 1 357 1-563 1 644 1-497 1 481 1 240 1-246 1-395 1 333 1 48 1-535 1 486 1-401 1 398 1-392 1 352 1-347 1-53 1 432 1-391 1 370 1-355 1 346 1-334 1 302 1 132 1-496 1 496 1-474 1 419 1-388 1 351 1-334 1-113 1 580 1-482 1 420 1-417 1 336 1-329 1 297 1 9 1-413 1 384 1-356 1 346 1-320 1 311 1-277 1-217 1 775 1-728 1 704 1-663 1 581 1-481 1 436 1 62 1-647 1 527 1-362 1 359 1-354 1 322 1-292 1-90 1 535 1-531 1 490 1-447 1 443 1-415 1 346 1 138 1-476 1 351 1-337 1 297 1-281 1 247 1-227 1-188 1 548 1-404 1 385 1-371 1 306 1-295 1 279 1-378 1 429 1-421 1 399 1-384 1 366 1-326 1 288 1 86 1-435 1 398 1-380 1 372 1-363 1 341 1-299 1-87 1 519 1-516 1 427 1-377 1 367 1-310 1 296 1 117 1-599 1 575 1-471 1 437 1-387 1 343 1-330 1 583 1-766 1 751 1-701 1 637 1-635 1 523 1-417 1 381 1-419 1 395 1-367 1 331 1-328 1 318 1-304 1-100 1 478 1-452 1 446 1-438 1 435 1-414 1 408 1-371 1 320 1-277 1 271 1-271 1 264 1-252 1 226 1 234 1-531 1 486 1-468 1 372 1-369 1 277 1-256 1 517 1-580 1 529 1-521 1 483 1-466 1 393 1-345 1 388 1-542 1 511 1-460 1 448 1-415 1 391 1-363 1-58 1 531 1-478 1 414 1-407 1 404 1-387 1 315 1 126 1-484 1 435 1-402 1 350 1-339 1 305 1-291 1 380 1-521 1 483 1-455 1 447 1-438 1 396 1-327 1-51 1 391 1-362 1 361 1-318 1 302 1-282 1 264 1-334 1 507 1-507 1 474 1-463 1 413 1-384 1 343 1-537 1 589 1-526 1 506 1-493 1 487 1-428 1 389 1 124 1-496 1 393 1-357 1 679 1-676 1 329 1-323 1-51 1 508 1-491 1 478 1-445 1 430 1-414 1 400 1 64 1-556 1 520 1-464 1 427 1-409 1 298 1-294 1 562 1-633 1 533 1-493 1 455 1-435 1 384 1-376 1 394 1-517 1 504 1-437 1 434 1-415 1 383 1-355 1 547 1-555 1 444 1-443 1 397 1-388 1 361 1-325 1 320 1-419 1 378 1-331 1 329 1-280 1 262 1-240 1-130 1 527 1-515 1 477 1-452 1 375 1-271 1 220 1 60 1-364 1 358 1-335 1 328 1-305 1 300 1-282 1-66 1 485 1-482 1 423 1-416 1 392 1-386 1 373 1 139 1-741 1 709 1-631 1 610 1-562 1 467 1-460 1 720 1-723 1 566 1-499 1 454 1-442 1 378 1-352 1 393 1-442 1 414 1-384 1 372 1-353 1 351 1-304 1 526 1-758 1 666 1-652 1 628 1-561 1 527 1-514 1 502 1-457 1 431 1-402 1 355 1-345 1 325 1-296 1 600 1-745 1 646 1-617 1 604 1-603 1 856 1-802 1-135 1 619 1-491 1 457 1-450 1 447 1-429 1 391 1 112 1-629 1 625 1-569 1 555 1-528 1 450 1-423 1-249 1 669 1-469 1 468 1-455 1 437 1-345 1 336 1-432 1 497 1-479 1 427 1-382 1 362 1-334 1 301 1 265 1-728 1 598 1-533 1 499 1-486 1 466 1-420 1-18 1 499 1-481 1 460 1-449 1 430 1-375 1 320 1 56 1-574 1 561 1-560 1 548 1-534 1 496 1-392 1 460 1-554 1 554 1-491 1 455 1-422 1 385 1-373 1-285 1 912 1-737 1 641 1-617 1 610 1-544 1 482 1 22 1-468 1 452 1-451 1 431 1-428 1 347 1-333 1 455 1-580 1 506 1-492 1 450 1-418 1 378 1-350 1 462 1-453 1 390 1-361 1-272 1 284 1 318 1-303 1-121 1 465 1-360 1 342 1-324 1 321 1-315 1 289 1-404 1 509 1-456 1 426 1-415 1 401 1-332 1 329 1-477 1 542 1-447 1 347 1-319 1 287 1-274 1 260 1 111 1-484 1 479 1-452 1 416 1-372 1 349 1-328 1-207 1 669 1-536 1 515 1-483 1 453 1-434 1 429 1-488 1 561 1-553 1 512 1-510 1 439 1-419 1 397 1 58 1-593 1 554 1-402 1 399 1-383 1 326 1-320 1 559 1-639 1 450 1-430 1 419 1-379 1 369 1-336 1-117 1 551 1-534 1 479 1-396 1 394 1-355 1 315 1-558 1 790 1-638 1 563 1-514 1 483 1-427 1 372 1-436 1 430 1-420 1 392 1-379 1 377 1-363 1 259 1 235 1-551 1 408 1-394 1 386 1-378 1 374 1-345 1-214 1 721 1-717 1 693 1-763 1 745 1-558 1 525 1-17 1-529 1 489 1-475 1 470 1-414 1 363 1-316 1 414 1-515 1 502 1-461 1 435 1-384 1 340 1-318 1 386 1-541 1 536 1-496 1 438 1-409 1 383 1-354 1-223 1 787 1-608 1 513 1-475 1 453 1-446 1 365 1-451 1 555 1-530 1 489 1-473 1 444 1-380 1 371 1 137 1-646 1 802 1-740 1 456 1-408 1 386 1-361 1-140 1 520 1-490 1 477 1-379 1 377 1-344 1 309 1 141 1-547 1 543 1-534 1 469 1-432 1 386 1-325 1-265 1 773 1-747 1 716 1-572 1 559 1-475 1 429 1-435 1 343 1-301 1 265 1-263 1 260 1-238 1 195 1 229 1-503 1 394 1-361 1 323 1-315 1 299 1-294 1-78 1 384 1-315 1 300 1-295 1 261 1-253 1 225 1-295 1 471 1-451 1 446 1-429 1 421 1-407 1 379 1 88 1-581 1 488 1-411 1 389 1-373 1 320 1-287 1 383 1-425 1 403 1-403 1 376 1-369 1 364 1-300 1 305 1-415 1 385 1-326 1 305 1-290 1 253 1-237 1 458 1-634 1 513 1-440 1 438 1-427 1 409 1-382 1 467 1-439 1 298 1-288 1 272 1-249 1 228 1-209 1-180 1 590 1-523 1 476 1-470 1 393 1-372 1 359 1-323 1 370 1-365 1 310 1-298 1 246 1-245 1 234 1 183 1-449 1 439 1-421 1 392 1-391 1 337 1-295 1-89 1 501 1-492 1 436 1-427 1 415 1-363 1 302 1 102 1-414 1 278 1-268 1 258 1-248 1 214 1-185 1-78 1 401 1-388 1 260 1-236 1 228 1-207 1 193 1-281 1 455 1-431 1 378 1-335 1 322 1-292 1 215 1-266 1 370 1-362 1 361 1-352 1 345 1-311 1 245 1-330 1 479 1-470 1 441 1-409 1 369 1-351 1 298 1-389 1 445 1-425 1 422 1-380 1 364 1-310 1 240 1-432 1 542 1-450 1 399 1-398 1 397 1-340 1 292 1-350 1 373 1-324 1 320 1-319 1 296 1-267 1 228 1 137 1-382 1 336 1-324 1 292 1-281 1 273 1-258 1-248 1 629 1-514 1 433 1-422 1 419 1-413 1 389 1-398 1 508 1-499 1 470 1-463 1 442 1-417 1 387 1-7 1-500 1 475 1-456 1 389 1-349 1 333 1-249 1 422 1-432 1 398 1-394 1 374 1-342 1 321 1-309 1 329 1-358 1 323 1-304 1 293 1-291 1 259 1-232 1 360 1-486 1 456 1-426 1 415 1-408 1 376 1-314 1 391 1-496 1 458 1-442 1 400 1-360 1 347 1-309 1 448 1 196 1-220 1-572 1 505 1-502 1 495 1-341 1-52 1 421 1-410 1 395 1-363 1 331 1-322 1 302 1 147 1-543 1 466 1-462 1 432 1-428 1 377 1-352 1 431 1-635 1 610 1-463 1 426 1-376 1 356 1-314 1-2 1 386 1-364 1 346 1-310 1 276 1-272 1 257 1 93 1-613 1 591 1-370 1 338 1-336 1 334 1-307 1-166 1 637 1-607 1 522 1-502 1 466 1-394 1 380 1 71 1-547 1 520 1-434 1 419 1-406 1 394 1-369 1-60 1 454 1-412 1 398 1-388 1 332 1-310 1 281 1-388 1-208 1 211 1 470 1-447 1 436 1-420 1 340 1 69 1-444 1 406 1-403 1 401 1-378 1 358 1-322 1 406 1-499 1 474 1-461 1 457 1-422 1 393 1-373 1-126 1 543 1-497 1 475 1-435 1 435 1-432 1 406 1-423 1 539 1-534 1 499 1-454 1 440 1-431 1 399 1 15 1-482 1 466 1-427 1 393 1-372 1 338 1-279" stroke="#f00" stroke-width="5.6" stroke-linejoin="bevel"/>
<path transform="translate(43.500 0) scale(0.125)" d="M0 3246l1-20 1 19 1-14 1 13 1-13 1 12 1-11 1-12 1 39 1-39 1 35 1-34 1 34 1-29 1 26 1-26 1 21 1-18 1 17 1-15 1 14 1-12 1 11 1 10 1-30 1 27 1-24 1 22 1-20 1 18 1-17 1 26 1-27 1 18 1-17 1 17 1-17 1 17 1-16 1-14 1 34 1-23 1 21 1-20 1 18 1-17 1 16 1-32 1 38 1-30 1 27 1-23 1 21 1-18 1 16 1-21 1 34 1-32 1 28 1-26 1 19 1-19 1 19 1 2 1-23 1 23 1-22 1 19 1-17 1 15 1-12 1 44 1-52 1 28 1-28 1 25 1-23 1 19 1-18 1-14 1 36 1-26 1 25 1-24 1 24 1-23 1 19 1-15 1 26 1-26 1 19 1-17 1 15 1-14 1 13 1 5 1-31 1 31 1-24 1 23 1-22 1 20 1-18 1-6 1 26 1-23 1 22 1-21 1 19 1-17 1 17 1 39 1-68 1 37 1-34 1 33 1-31 1 29 1-28 1 35 1-27 1 26 1-26 1 17 1-17 1 16 1-15 1 16 1-21 1 20 1-20 1 19 1-18 1 17 1-15 1 30 1-37 1 33 1-33 1 30 1-29 1 24 1-22 1 24 1-25 1 23 1-20 1 19 1-19 1 18 1-18 1-21 1 42 1-25 1 24 1-20 1 17 1-14 1 13 1 7 1-25 1 23 1-21 1 15 1-14 1 14 1-12 1-4 1 28 1-24 1 19 1-19 1 18 1-17 1 16 1-26 1 53 1-50 1 33 1-28 1 23 1-23 1 20 1 0 1-26 1 25 1-21 1 18 1-18 1 17 1-17 1 39 1-52 1 47 1-38 1 33 1-32 1 32 1-29 1 0 1 28 1-26 1 20 1-20 1 17 1-17 1 17 1-19 1 23 1-23 1 18 1-17 1 17 1-16 1 16 1-17 1 22 1-21 1 20 1-19 1 15 1-15 1 13 1-19 1 30 1-26 1 21 1-20 1 20 1-18 1 14 1-18 1 21 1-20 1 18 1-15 1 14 1-14 1 12 1-31 1 37 1-26 1 26 1-25 1 24 1-18 1 16 1-23 1 28 1-24 1 19 1-18 1 16 1-14 1 13 1 31 1-51 1 48 1-44 1 25 1-25 1 21 1-20 1-6 1 26 1-23 1 23 1-21 1 21 1-21 1 20 1-22 1 28 1-25 1 22 1-21 1 20 1-19 1 18 1-25 1 31 1-28 1 24 1-21 1 18 1-18 1 16 1-17 1 30 1-28 1 20 1-20 1 17 1-16 1 13 1 8 1-26 1 21 1-21 1 20 1-20 1 17 1-14 1 24 1-30 1 26 1-25 1 24 1-24 1 22 1-18 1 23 1-25 1 20 1-19 1 17 1-16 1 14 1-13 1 22 1-25 1 25 1-25 1 22 1-20 1 19 1-18 1-12 1 34 1-25 1 24 1-24 1 20 1-19 1 17 1-24 1 28 1-21 1 20 1-20 1 19 1-16 1 15 1 16 1-48 1 38 1-38 1 36 1-31 1 27 1-20 1 26 1-31 1 27 1-25 1 25 1-22 1 21 1-16 1-2 1 20 1-20 1 20 1-19 1 17 1-16 1 13 1-26 1 45 1-41 1 32 1-28 1 27 1-26 1 23 1-1 1-26 1 23 1-23 1 23 1-20 1 19 1-18 1-5 1 39 1-37 1 27 1-27 1 25 1-23 1 21 1-22 1 39 1-39 1 23 1-19 1 19 1-19 1 18 1 26 1-48 1 27 1-26 1 22 1-21 1 19 1-18 1-4 1 42 1-39 1 24 1-21 1 18 1-17 1 17 1 3 1-25 1 24 1-22 1 20 1-18 1 17 1-16 1 18 1-20 1 18 1-15 1 14 1-13 1 12 1-11 1 14 1-26 1 26 1-22 1 22 1-18 1 16 1-15 1 24 1-61 1 56 1-28 1 28 1-27 1 25 1-23 1 5 1 18 1-16 1 16 1-16 1 16 1-15 1 11 1-16 1 23 1-22 1 20 1-20 1 17 1-15 1 13 1-21 1 25 1-19 1 19 1-16 1 14 1-14 1 13 1 9 1-35 1 35 1-33 1 31 1-26 1 23 1-21 1 19 1-19 1 19 1-18 1 17 1-17 1 15 1-14 1 23 1-30 1 27 1-19 1 16 1-16 1 14 1-13 1-12 1 30 1-22 1 21 1-18 1 17 1-16 1 13 1 2 1-21 1 21 1-18 1 16 1-16 1 16 1-15 1-5 1 26 1-25 1 25 1-22 1 20 1-17 1 15 1-24 1 35 1-31 1 25 1-25 1 23 1-23 1 18 1-21 1 25 1-22 1 21 1-18 1 16 1-16 1 16 1 4 1-53 1 50 1-29 1 28 1-18 1 16 1-13 1-33 1 79 1-58 1 38 1-35 1 35 1-30 1 24 1-35 1 29 1-18 1 18 1-17 1 16 1-12 1 12 1 12 1-29 1 26 1-24 1 21 1-20 1 19 1-18 1-13 1 37 1-28 1 25 1-23 1 22 1-21 1 16 1-14 1 16 1-16 1 14 1-13 1 11 1-11 1 10 1-17 1 30 1-28 1 22 1-21 1 19 1-18 1 16 1 5 1-27 1 27 1-24 1 24 1-23 1 19 1-18 1 0 1 18 1-15 1 15 1-15 1 14 1-14 1 14 1-17 1 24 1-23 1 21 1-20 1 15 1-13 1 13 1 21 1-45 1 35 1-34 1 27 1-25 1 24 1-21 1 1 1 27 1-27 1 19 1-18 1 18 1-17 1 14 1-22 1 24 1-21 1 21 1-19 1 18 1-16 1 15 1 10 1-28 1 27 1-27 1 24 1-24 1 23 1-21 1-8 1 33 1-31 1 28 1-25 1 23 1-21 1 20 1-22 1 31 1-28 1 25 1-23 1 21 1-21 1 17 1 11 1-33 1 22 1-21 1 19 1-19 1 19 1-17 1-13 1 41 1-38 1 35 1-35 1 32 1-28 1 26 1-30 1 39 1-39 1 39 1-38 1 36 1-33 1 29 1-4 1-43 1 43 1-24 1 22 1-21 1 21 1-20 1-8 1 34 1-29 1 27 1-23 1 22 1-20 1 17 1 7 1-65 1 65 1-28 1 28 1-28 1 26 1-23 1 24 1-32 1 31 1-28 1 26 1-25 1 24 1-20 1-10 1 33 1-22 1 18 1-18 1 18 1-18 1 15 1-27 1 45 1-40 1 30 1-29 1 26 1-20 1 19 1-30 1 35 1-31 1 27 1-23 1 22 1-20 1 17 1-25 1 35 1-31 1 25 1-23 1 22 1-20 1 19 1-35 1 42 1-33 1 32 1-26 1 22 1-21 1 18 1 21 1-45 1 26 1-22 1 21 1-20 1 18 1-16 1 19 1-26 1 26 1-24 1 23 1-22 1 22 1-21 1 2 1 19 1-17 1 17 1-16 1 15 1-14 1 13 1-17 1 22 1-21 1 20 1-19 1 18 1-17 1 17 1-2 1-20 1 20 1-19 1 18 1-16 1 15 1-13 1-5 1 37 1-35 1 33 1-31 1 18 1-16 1 16 1 13 1-62 1 60 1-41 1 32 1-29 1 27 1-23 1 26 1-34 1 32 1-26 1 25 1-24 1 22 1-20 1-16 1 36 1-29 1 29 1-17 1 15 1-13 1 12 1 10 1-35 1 34 1-24 1 23 1-20 1 17 1-17 1-13 1 36 1-29 1 29 1-29 1 28 1-26 1 24 1 5 1-35 1 33 1-30 1 29 1-29 1 25 1-24 1-9 1 48 1-36 1 21 1-20 1 18 1-18 1 16 1-25 1 55 1-55 1 36 1-34 1 31 1-27 1 25 1 3 1-29 1 23 1-22 1 21 1-19 1 17 1-14 1 19 1-26 1 25 1-22 1 20 1-19 1 18 1-17 1-6 1 31 1-29 1 27 1-25 1 23 1-21 1 19 1 13 1-37 1 25 1-24 1 21 1-19 1 18 1-17 1 25 1-34 1 34 1-29 1 29 1-28 1 26 1-23 1-3 1 32 1-29 1 21 1-21 1 20 1-17 1 14 1-19 1 27 1-25 1 23 1-22 1 22 1-21 1 18 1 6 1-37 1 32 1-26 1 24 1-22 1 22 1-19 1-10 1 39 1-30 1 24 1-23 1 21 1-18 1 16 1 0 1-18 1 16 1-15 1 15 1-14 1 13 1-12 1 18 1-30 1 30 1-29 1 27 1-23 1 22 1-19 1-3 1 27 1-26 1 22 1-22 1 22 1-21 1 20 1 7 1-66 1 62 1-27 1 27 1-26 1 25 1-21 1 24 1-27 1 24 1-20 1 19 1-19 1 18 1-16 1-9 1 36 1-31 1 24 1-24 1 21 1-20 1 19 1 3 1-21 1 19 1-18 1 18 1-17 1 16 1-15 1-13 1 30 1-22 1 21 1-20 1 20 1-17 1 14 1-22 1 36 1-28 1 25 1-25 1 17 1-16 1 14 1 15 1-36 1 23 1-22 1 21 1-21 1 19 1-18 1 32 1-37 1 36 1-34 1 27 1-24 1 21 1-18 1 22 1-27 1 25 1-23 1 23 1-22 1 19 1-19 1 21 1-31 1 29 1-23 1 22 1-17 1 15 1-12 1 17 1-29 1 28 1-22 1 22 1-21 1 19 1-15 1 24 1-32 1 31 1-30 1 30 1-26 1 26 1-25 1 30 1-52 1 48 1-34 1 32 1-30 1 28 1-23 1 0 1 25 1-25 1 21 1-21 1 20 1-17 1 13 1 8 1-43 1 43 1-30 1 27 1-24 1 23 1-22 1 23 1-25 1 24 1-19 1 18 1-17 1 15 1-14 1 15 1-16 1 15 1-14 1 13 1-12 1 11 1-11 1-7 1 23 1-22 1 21 1-20 1 20 1-19 1 18 1-18 1 26 1-24 1 15 1-14 1 14 1-12 1 11 1-24 1 28 1-26 1 25 1-23 1 23 1-21 1 19 1 11 1-30 1 29 1-29 1 24 1-22 1 21 1-17 1 13 1-17 1 17 1-15 1 14 1-13 1 11 1-11 1-5 1 23 1-23 1 23 1-20 1 19 1-17 1 14 1-42 1 67 1-45 1 35 1-34 1 25 1-23 1 21 1-21 1 20 1-20 1 18 1-18 1 17 1-15 1 14 1 9 1-42 1 40 1-24 1 21 1-19 1 17 1-16 1 20 1-26 1 26 1-22 1 21 1-21 1 20 1-18 1-12 1 32 1-25 1 23 1-23 1 22 1-18 1 18 1-41 1 47 1-29 1 27 1-25 1 23 1-21 1 19 1-18 1 19 1-17 1 14 1-14 1 12 1-12 1 12 1 14 1-33 1 26 1-21 1 16 1-16 1 16 1-15 1 24 1-29 1 22 1-20 1 19 1-17 1 15 1-12 1 36 1-43 1 29 1-27 1 25 1-22 1 17 1-17 1 0 1 13 1-11 1 10 1-8 1 8 1-7 1 6 1-46 1 76 1-61 1 43 1-26 1 19 1-15 1 14 1 3 1-23 1 22 1-21 1 20 1-18 1 17 1-15 1 19 1-33 1 32 1-21 1 21 1-21 1 19 1-17 1 21 1-24 1 23 1-22 1 21 1-20 1 19 1-18 1-17 1 42 1-29 1 26 1-25 1 25 1-24 1 20 1-25 1 32 1-30 1 24 1-22 1 22 1-19 1 17 1 9 1-32 1 31 1-28 1 26 1-26 1 24 1-22 1 25 1-27 1 24 1-23 1 22 1-21 1 17 1-14 1-7 1 30 1-28 1 24 1-22 1 18 1-17 1 16 1 4 1-20 1 18 1-18 1 17 1-17 1 17 1-15 1-2 1 19 1-18 1 17 1-17 1 17 1-15 1 14 1 11 1-57 1 52 1-39 1 39 1-33 1 31 1-30 1 1 1 58 1-54 1 29 1-28 1 25 1-23 1 21 1 4 1-28 1 24 1-21 1 16 1-15 1 14 1-13 1-7 1 31 1-26 1 21 1-20 1 18 1-18 1 16 1-17 1 19 1-19 1 19 1-18 1 17 1-16 1 14 1 8 1-41 1 40 1-27 1 27 1-27 1 27 1-24 1 39 1-40 1 26 1-24 1 23 1-22 1 19 1-17 1-10 1 39 1-37 1 31 1-29 1 27 1-25 1 22 1-20 1 20 1-18 1 18 1-18 1 17 1-16 1 15 1 9 1-50 1 42 1-24 1 24 1-24 1 24 1-22 1-15 1 36 1-22 1 22 1-19 1 18 1-16 1 14 1-19 1 26 1-21 1 17 1-17 1 16 1-14 1 13 1 7 1-32 1 32 1-27 1 22 1-18 1 17 1-16 1-8 1 27 1-22 1 22 1-21 1 19 1-18 1 18 1 2 1-21 1 21 1-19 1 16 1-16 1 15 1-13 1-19 1 39 1-26 1 25 1-24 1 23 1-20 1 19 1-20 1 18 1-17 1 17 1-16 1 15 1-14 1 12 1-15 1 24 1-23 1 17 1-17 1 16 1-14 1 12 1 8 1-28 1 25 1-23 1 23 1-22 1 16 1-14 1-1 1 18 1-18 1 18 1-15 1 14 1-13 1 12 1 9 1-32 1 29 1-24 1 24 1-22 1 21 1-20 1 26 1-26 1 22 1-22 1 20 1-19 1 16 1-15 1-6 1 24 1-20 1 17 1-14 1 13 1-13 1 11 1-14 1 16 1-12 1 11 1-11 1 10 1-9 1 9 1-19 1 23 1-21 1 21 1-18 1 18 1-16 1 13 1-18 1 33 1-32 1 25 1-23 1 20 1-20 1 18 1-24 1 25 1-22 1 19 1-15 1 14 1-11 1 11 1-28 1 34 1-23 1 22 1-22 1 22 1-21 1 17 1 5 1-26 1 24 1-23 1 20 1-16 1 15 1-14 1-7 1 30 1-25 1 20 1-20 1 20 1-19 1 18 1-17 1 17 1-17 1 16 1-15 1 14 1-13 1 12 1-23 1 38 1-37 1 31 1-30 1 27 1-25 1 21 1-24 1 28 1-25 1 24 1-21 1 19 1-17 1 16 1-20 1 35 1-33 1 24 1-24 1 22 1-21 1 19 1-24 1 26 1-22 1 20 1-20 1 18 1-17 1 16 1 4 1-20 1 19 1-17 1 16 1-15 1 14 1-14 1 18 1-25 1 24 1-22 1 21 1-20 1 18 1-17 1-18 1 37 1-31 1 30 1-24 1 23 1-21 1 19 1-15 1 18 1-16 1 15 1-15 1 14 1-13 1 12 1 7 1-31 1 31 1-29 1 29 1-27 1 25 1-23 1-1 1 23 1-20 1 19 1-17 1 16 1-15 1 14 1 9 1-38 1 37 1-30 1 28 1-23 1 18 1-17 1-16 1 42 1-27 1 23 1-23 1 20 1-19 1 17 1 17 1-38 1 27 1-26 1 23 1-22 1 20 1-18 1 27 1-33 1 24 1-21 1 20 1-19 1 18 1-17 1 56 1-66 1 38 1-33 1 25 1-21 1 17 1-13 1 17 1-21 1 18 1-16 1 15 1-15 1 14 1-13 1 33 1-39 1 28 1-28 1 24 1-19 1 16 1-16 1-2 1 18 1-16 1 14 1-12 1 12 1-11 1 10 1-17 1 30 1-29 1 22 1-20 1 20 1-18 1 17 1-23 1 26 1-23 1 22 1-20 1 19 1-19 1 18 1 1 1-19 1 19 1-17 1 14 1-14 1 14 1-13 1-9 1 39 1-33 1 20 1-20 1 19 1-18 1 18 1-21 1 24 1-23 1 23 1-23 1 21 1-20 1 20 1-23 1 21 1-16 1 15 1-15 1 14 1-13 1 12 1 9 1-25 1 23 1-22 1 22 1-21 1 14 1-13 1-4 1 32 1-31 1 22 1-21 1 19 1-18 1 18 1 6 1-32 1 30 1-23 1 20 1-19 1 18 1-17 1 19 1-23 1 20 1-19 1 18 1-16 1 13 1-12 1-4 1 24 1-24 1 21 1-20 1 18 1-16 1 14 1 7 1-29 1 28 1-26 1 22 1-22 1 22 1-18 1 20 1-20 1 17 1-16 1 16 1-15 1 15 1-13 1 29 1-34 1 18 1-18 1 17 1-17 1 16 1-14 1 26 1-34 1 32 1-27 1 27 1-24 1 19 1-19 1 25 1-39 1 36 1-27 1 25 1-25 1 22 1-19 1 1 1 21 1-19 1 18 1-17 1 17 1-15 1 13 1 3 1-27 1 25 1-20 1 19 1-15 1 13 1-13 1-1 1 25 1-24 1 16 1-14 1 11 1-11 1 10 1-23 1 27 1-22 1 22 1-21 1 20 1-17 1 15 1 6 1-49 1 47 1-25 1 25 1-21 1 20 1-17 1 20 1-27 1 26 1-25 1 23 1-19 1 17 1-16 1-17 1 38 1-35 1 31 1-20 1 20 1-17 1 16 1-27 1 35 1-28 1 27 1-26 1 25 1-24 1 21 1 6 1-32 1 32 1-31 1 27 1-27 1 26 1-25 1 41 1-44 1 29 1-22 1 22 1-21 1 18 1-16 1 16 1-21 1 20 1-18 1 18 1-16 1 15 1-15 1-2 1 22 1-21 1 19 1-17 1 17 1-16 1 15 1 12 1-30 1 24 1-24 1 22 1-20 1 16 1-15 1-3 1 21 1-20 1 19 1-18 1 18 1-18 1 15 1-23 1 28 1-28 1 26 1-23 1 22 1-20 1 18 1 7 1-26 1 22 1-21 1 20 1-20 1 19 1-15 1-8 1 43 1-38 1 26 1-26 1 20 1-19 1 19 1 3 1-34 1 33 1-29 1 29 1-28 1 26 1-24 1 5 1 29 1-28 1 16 1-16 1 15 1-13 1 11 1-38 1 58 1-37 1 26 1-25 1 22 1-22 1 19 1-30 1 27 1-12 1 12 1-11 1 10 1-9 1 9 1-19 1 26 1-21 1 20 1-19 1 18 1-17 1 16 1 6 1-28 1 25 1-23 1 21 1-20 1 17 1-15 1 31 1-36 1 23 1-22 1 22 1-21 1 20 1-16 1 21 1-25 1 24 1-24 1 24 1-23 1 19 1-18" stroke="#00f" stroke-width="5.6" stroke-linejoin="bevel"/>
<path transform="translate(380.500 0) scale(0.125)" d="M0 3358l1-262 1 234 1-191 1 187 1-177 1 169 1-165 1-8 1 315 1-310 1 215 1-211 1 188 1-184 1 180 1 33 1-228 1 206 1-190 1 177 1-163 1 146 1-134 1 124 1-164 1 160 1-158 1 153 1-150 1 141 1-123 1-86 1 334 1-315 1 258 1-229 1 211 1-193 1 179 1 55 1-311 1 304 1-265 1 263 1-240 1 234 1-205 1-55 1 242 1-235 1 223 1-212 1 207 1-193 1 190 1-246 1 332 1-321 1 277 1-258 1 256 1-219 1 186 1-170 1 190 1-187 1 185 1 147 1-149 1-175 1 148 1-199 1 263 1-262 1 259 1-249 1 247 1-200 1 198 1-248 1 251 1-244 1 216 1-195 1 170 1-163 1 153 1 26 1-305 1 292 1-218 1 203 1-188 1 187 1-175 1 223 1-255 1 231 1-211 1 191 1-181 1 176 1-166 1 0 1 202 1-200 1 181 1-176 1 176 1-159 1 109 1-187 1 297 1-284 1 259 1-250 1 237 1-228 1 211 1-239 1 273 1-229 1 195 1-194 1 172 1-148 1 131 1-195 1 289 1-275 1 252 1-242 1 220 1-212 1 193 1 18 1-292 1 291 1-240 1 238 1-229 1 210 1-203 1 195 1-176 1 163 1-139 1 138 1-125 1 112 1-106 1-76 1 320 1-283 1 211 1-196 1 172 1-155 1 133 1-247 1 296 1-259 1 253 1-215 1 190 1-170 1 155 1-168 1 215 1-208 1 191 1-176 1 166 1-164 1 143 1 64 1-272 1 267 1-223 1 211 1-208 1 188 1-183 1 272 1-343 1 302 1-230 1 187 1-182 1 144 1-139 1 206 1-301 1 291 1-240 1 215 1-208 1 194 1-164 1-52 1 215 1-194 1 194 1-177 1 170 1-160 1 158 1 53 1-256 1 245 1-224 1 214 1-209 1 156 1-146 1-85 1 287 1-243 1 237 1-227 1 224 1-202 1 192 1-257 1 312 1-272 1 250 1-226 1 203 1-186 1 168 1 110 1-275 1 214 1-210 1-212 1 216 1 173 1-164 1 234 1-279 1 217 1-201 1 191 1-190 1 179 1-167 1-35 1 219 1-215 1 214 1-199 1 185 1-166 1 151 1-1 1-169 1 166 1-148 1 144 1-132 1 127 1-108 1 147 1-269 1 264 1-257 1 246 1-162 1 151 1-144 1-68 1 273 1-268 1 266 1-225 1 223 1-199 1 192 1 95 1-318 1 296 1-278 1 217 1-213 1 170 1-149 1 192 1-332 1 324 1-305 1 298 1-270 1 246 1-202 1 246 1-228 1 212 1-206 1 192 1-191 1 169 1-163 1-61 1 294 1-288 1 226 1-207 1 204 1-176 1 166 1-183 1 173 1-162 1 162 1-150 1 147 1-142 1 130 1-161 1 233 1-231 1 220 1-201 1 191 1-186 1 182 1-3 1-173 1 160 1-147 1 133 1-132 1 117 1-109 1-55 1 192 1-189 1 171 1-158 1 148 1-135 1 131 1-345 1 127 1 313 1-287 1 263 1-258 1 237 1-204 1 188 1-186 1 178 1-164 1 158 1-150 1 143 1-133 1 176 1-222 1 221 1-215 1 213 1-210 1 182 1-170 1 212 1-287 1 277 1-229 1 228 1-222 1 221 1-189 1 191 1-304 1 291 1-244 1 229 1-178 1 160 1-139 1 184 1-225 1 208 1-207 1 205 1-202 1 191 1-174 1 1 1 179 1-177 1 170 1-167 1 161 1-141 1 130 1-188 1 251 1-246 1 242 1-235 1 232 1-221 1 209 1-235 1 212 1-179 1 177 1-173 1 172 1-162 1 154 1 120 1-373 1 289 1-220 1 191 1-180 1 172 1-158 1-52 1 347 1-343 1 268 1-259 1 242 1-223 1 214 1 12 1-253 1 248 1-226 1 221 1-221 1 173 1-158 1-71 1 318 1-262 1 240 1-198 1 188 1-181 1 141 1 52 1-278 1 271 1-245 1 239 1-221 1 187 1-173 1 254 1-263 1 200 1-197 1 188 1-183 1 175 1-158 1 234 1-288 1 230 1-208 1 198 1-194 1 190 1-165 1-86 1 312 1-306 1 305 1-297 1 251 1-212 1 180 1 49 1-243 1 236 1-211 1 184 1-178 1 158 1-153 1 3 1 218 1-206 1 178 1-173 1 162 1-159 1 144 1-177 1 243 1-221 1 213 1-207 1 138 1-136 1 133 1 9 1-219 1 211 1-166 1 157 1-149 1 145 1-125 1-11 1 182 1-177 1 169 1-156 1 143 1-132 1 123 1 123 1-406 1 307 1-251 1 242 1-237 1 234 1-191 1 235 1-299 1 294 1-224 1 217 1-214 1 195 1-191 1 253 1-380 1 369 1-271 1 206 1-197 1 191 1-180 1 204 1-208 1 197 1-180 1 165 1-160 1 144 1-133 1-39 1 217 1-204 1 202 1-186 1 151 1-148 1 143 1 85 1-299 1 280 1-263 1 256 1-208 1 202 1-190 1 208 1-313 1 289 1-211 1 209 1-207 1 181 1-139 1 273 1-86 1-265 1 252 1-238 1 234 1-186 1 162 1-202 1 238 1-226 1 181 1-167 1 161 1-155 1 151 1-205 1 339 1-325 1 321 1-314 1 269 1-255 1 197 1 12 1-267 1 265 1-261 1 253 1-227 1 227 1-210 1 351 1-393 1 308 1-284 1 279 1-249 1 170 1-152 1-21 1 232 1-220 1 200 1-199 1 159 1-141 1 137 1-155 1 227 1-223 1 192 1-191 1 184 1-178 1 155 1-211 1 231 1-226 1 209 1-202 1 200 1-154 1 130 1 76 1-289 1 282 1-248 1 235 1-235 1 234 1-206 1-46 1 230 1-208 1 191 1-168 1 165 1-157 1 144 1 101 1-302 1 279 1-234 1 229 1-225 1 187 1-176 1 158 1-152 1 151 1-148 1 142 1-141 1 135 1-116 1 189 1-252 1 221 1-186 1 173 1-163 1 142 1-138 1 193 1-238 1 231 1-221 1 208 1-187 1 165 1-140 1 137 1-180 1 162 1-147 1 144 1-125 1 116 1-92 1-42 1 205 1-193 1 186 1-184 1 168 1-152 1 144 1 57 1-299 1 296 1-290 1 249 1-231 1 225 1-195 1 242 1-278 1 260 1-241 1 238 1-237 1 204 1-185 1 2 1 264 1-259 1 214 1-198 1 149 1-128 1 118 1-260 1 339 1-254 1 213 1-191 1 186 1-180 1 174 1 100 1-317 1 274 1-264 1 257 1-249 1 224 1-211 1 251 1-326 1 319 1-282 1 243 1-222 1 195 1-175 1 204 1-184 1 173 1-160 1 155 1-149 1 140 1-131 1 181 1-314 1 304 1-244 1 204 1-203 1 201 1-178 1 236 1-249 1 201 1-190 1 182 1-168 1 144 1-114 1-78 1 228 1-173 1 166 1-161 1 155 1-143 1 136 1 42 1-209 1 199 1-191 1 153 1-152 1 147 1-131 1 290 1-338 1 271 1-270 1 224 1-211 1 165 1-150 1 216 1-274 1 242 1-210 1 200 1-184 1 157 1-132 1 229 1-356 1 301 1-260 1 259 1-211 1 201 1-176 1 239 1-274 1 214 1-201 1 198 1-193 1 167 1-156 1 239 1-274 1 244 1-231 1 225 1-203 1 162 1-139 1 171 1-293 1 285 1-221 1 217 1-217 1 207 1-191 1 17 1 196 1-191 1 144 1-135 1 132 1-127 1 116 1 57 1-199 1 197 1-196 1 189 1-171 1 164 1-151 1 234 1-288 1 264 1-259 1 230 1-226 1 193 1-166 1 182 1-181 1 160 1-157 1 148 1-144 1 138 1-132 1 171 1-221 1 202 1-189 1 188 1-181 1 173 1-160 1-60 1 304 1-299 1 255 1-245 1 240 1-228 1 215 1-273 1 333 1-289 1 274 1-274 1 247 1-238 1 216 1-204 1 262 1-260 1 246 1-237 1 212 1-201 1 183 1-219 1 262 1-236 1 227 1-212 1 207 1-194 1 179 1 11 1-320 1 303 1-231 1 228 1-201 1 188 1-183 1-115 1 307 1-185 1 170 1-169 1 161 1-158 1 145 1-157 1 257 1-242 1 237 1-235 1 220 1-203 1 177 1-267 1 344 1-298 1 226 1-225 1 216 1-181 1 124 1 78 1-292 1 250 1-234 1 226 1-178 1 169 1-166 1-60 1 218 1-146 1 144 1-141 1 140 1-124 1 114 1-202 1 320 1-316 1 289 1-279 1 272 1-255 1 246 1 43 1-281 1 195 1-186 1 177 1-164 1 157 1-149 1-11 1 222 1-215 1 195 1-194 1 181 1-179 1 154 1 70 1-251 1 235 1-228 1 220 1-205 1 182 1-168 1 185 1-207 1 196 1-182 1 182 1-178 1 162 1-153 1 217 1-300 1 268 1-238 1 228 1-205 1 172 1-162 1 202 1-205 1 187 1-183 1 167 1-154 1 130 1-124 1-106 1 313 1-280 1 272 1-251 1 231 1-208 1 198 1 38 1-332 1 329 1-270 1 269 1-257 1 250 1-224 1 13 1 197 1-196 1 190 1-187 1 186 1-167 1 146 1 27 1-216 1 208 1-201 1 194 1-188 1 175 1-149 1-72 1 282 1-258 1 247 1-218 1 218 1-201 1 168 1-3 1-224 1 207 1-181 1 180 1-149 1 141 1-138 1 232 1-301 1 267 1-250 1 248 1-224 1 204 1-197 1-69 1 283 1-236 1 221 1-205 1 194 1-176 1 159 1-261 1 413 1-328 1 221 1-192 1 189 1-179 1 152 1 116 1-368 1 274 1-264 1 263 1-248 1 214 1-197 1 259 1-286 1 249 1-245 1 238 1-232 1 224 1-201 1 245 1-267 1 258 1-245 1 240 1-226 1 208 1-200 1 242 1-324 1 281 1-215 1 182 1-147 1 139 1-129 1-75 1 253 1-201 1 164 1-164 1 163 1-157 1 156 1-180 1 209 1-191 1 179 1-179 1 172 1-167 1 159 1 12 1-192 1 192 1-183 1 176 1-173 1 165 1-162 1-73 1 255 1-240 1 235 1-215 1 211 1-189 1 170 1-263 1 355 1-327 1 301 1-298 1 285 1-251 1 238 1 6 1-207 1 206 1-172 1 155 1-153 1 133 1-114 1-46 1 222 1-215 1 192 1-188 1 164 1-149 1 131 1 42 1-243 1 233 1-230 1 223 1-195 1 185 1-171 1 225 1-283 1 248 1-247 1 237 1-172 1 136 1-128 1-76 1 363 1-325 1 226 1-215 1 212 1-196 1 180 1-214 1 228 1-211 1 164 1-151 1 150 1-140 1 131 1-166 1 239 1-229 1 223 1-219 1 202 1-192 1 172 1-209 1 296 1-287 1 224 1 125 1-139 1-188 1 181 1 89 1-344 1 270 1-237 1 235 1-228 1 202 1-184 1-10 1 278 1-274 1 217 1-206 1 194 1-175 1 172 1-247 1 340 1-323 1 318 1-292 1 232 1-221 1 190 1 64 1-342 1 311 1-249 1 231 1-191 1 183 1-176 1 179 1-170 1 168 1-165 1 162 1-161 1 133 1-132 1-110 1 275 1-201 1 200 1-177 1 174 1-155 1 133 1 71 1-295 1 273 1-212 1 202 1-198 1 185 1-159 1-116 1 341 1-313 1 297 1-278 1 263 1-247 1 239 1-288 1 302 1-267 1 262 1-233 1 216 1-193 1 163 1 10 1-184 1 178 1-158 1 140 1-132 1 116 1-110 1-134 1 393 1-339 1 316 1-270 1 199 1-187 1 178 1-250 1 255 1-230 1 226 1-197 1 179 1-174 1 167 1-318 1 349 1-244 1 239 1-187 1 186 1-171 1 163 1 22 1-253 1 245 1-217 1 195 1-192 1 180 1-162 1 227 1-250 1 227 1-221 1 219 1-189 1 158 1-154 1-102 1 306 1-278 1 273 1-257 1 242 1-213 1 195 1 6 1-239 1 237 1-229 1 213 1-204 1 193 1-172 1 262 1-330 1 256 1-248 1 245 1-197 1 176 1-158 1-134 1 362 1-240 1 182 1-176 1 173 1-145 1 137 1 97 1-352 1 290 1-284 1 273 1-195 1 191 1-181 1-4 1 204 1-190 1 189 1-176 1 160 1-144 1 137 1 16 1-245 1 234 1-182 1 160 1-148 1 144 1-138 1 203 1-270 1 265 1-264 1 231 1-195 1 177 1-143 1 240 1-369 1 366 1-248 1 205 1-189 1 183 1-163 1-53 1 230 1-225 1 219 1-218 1 197 1-179 1 168 1 48 1-268 1 230 1-229 1 220 1-217 1 204 1-192 1-24 1 270 1-264 1 259 1-251 1 233 1-217 1 211 1-14 1-198 1 185 1-185 1 183 1-178 1 176 1-148 1 266 1-339 1 263 1-241 1 226 1-201 1 191 1-178 1-36 1 243 1-243 1 234 1-225 1 220 1-211 1 194 1 45 1-238 1 200 1-184 1 174 1-174 1 154 1-130 1 259 1-330 1 258 1-249 1 232 1-219 1 206 1-190 1-73 1 272 1-198 1 187 1-162 1 144 1-138 1 118 1-252 1 309 1-257 1 246 1-244 1 227 1-188 1 184 1 99 1-292 1 272 1-271 1 249 1-245 1 219 1-202 1 221 1-284 1 263 1-246 1 243 1-242 1 229 1-190 1-23 1 323 1-312 1 303 1-297 1 217 1-174 1 164 1-272 1 295 1-245 1 230 1-197 1 196 1-185 1 172 1-190 1 177 1-173 1 170 1-161 1 160 1-149 1 135 1-169 1 217 1-216 1 210 1-205 1 205 1-189 1 172 1 141 1-443 1 331 1-248 1 236 1-201 1 187 1-177 1 171 1-281 1 274 1-176 1 165 1-150 1 143 1-120 1 226 1-281 1 240 1-236 1 227 1-209 1 195 1-173 1-100 1 280 1-258 1 222 1-219 1 214 1-184 1 176 1 34 1-218 1 204 1-190 1 182 1-162 1 138 1-110 1-90 1 228 1-195 1 194 1-185 1 180 1-155 1 141 1-161 1 267 1-243 1 190 1-188 1 184 1-177 1 145 1-193 1 272 1-261 1 255 1-238 1 207 1-197 1 174 1-184 1 186 1-181 1 168 1-163 1 160 1-144 1 135 1 64 1-289 1 285 1-245 1 233 1-216 1 183 1-166 1 247 1-309 1 232 1-220 1 216 1-161 1 158 1-153 1 169 1-178 1 177 1-170 1 160 1-158 1 149 1-141 1 218 1-290 1 289 1-276 1 255 1-240 1 226 1-198 1-38 1 253 1-240 1 236 1-232 1 207 1-166 1 147 1 31 1-276 1 264 1-237 1 223 1-214 1 203 1-177 1-6 1 199 1-192 1 186 1-162 1 154 1-148 1 123 1 74 1-251 1 241 1-207 1 177 1-176 1 165 1-161 1 170 1-198 1 176 1-153 1 145 1-143 1 130 1-111 1 190 1-203 1 199 1-197 1 169 1-161 1 126 1-121 1-73 1 235 1-220 1 220 1-184 1 174 1-150 1 137 1 74 1-350 1 327 1-259 1 254 1-249 1 223 1-206 1 339 1-387 1 269 1-225 1 219 1-202 1 192 1-175 1 291 1-396 1 347 1-297 1 272 1-270 1 210 1-189 1 5 1 214 1-188 1 182 1-174 1 159 1-154 1 144 1-166 1 214 1-207 1 187 1-181 1 164 1-137 1 109 1 57 1-215 1 205 1-201 1 184 1-179 1 168 1-157 1-4 1 228 1-219 1 190 1-368 1 345 1-154 1 138 1 115 1-391 1 363 1-322 1 258 1-254 1 244 1-179 1 254 1-319 1 281 1-241 1 231 1-211 1 186 1-180 1-34 1 261 1-253 1 253 1-237 1 228 1-208 1 173 1 24 1-292 1 286 1-256 1 237 1-228 1 216 1-166 1 220 1-277 1 273 1-226 1 195 1-182 1 178 1-163 1-27 1 245 1-231 1 228 1-223 1 177 1-158 1 145 1 55 1-247 1 231 1-227 1 190 1-186 1 167 1-143 1-129 1 308 1-223 1 211 1-197 1 187 1-180 1 173 1 9 1-208 1 177 1-139 1 139 1-138 1 137 1-136 1 188 1-235 1 228 1-218 1 201 1-183 1 163 1-154 1-135 1 442 1-367 1 299 1-295 1 264 1-247 1 228 1-262 1 297 1-244 1 233 1-227 1 225 1-213 1 205 1-24 1-191 1 185 1-177 1 174 1-170 1 158 1-132 1 183 1-325 1 321 1-279 1 275 1-251 1 234 1-213 1-73 1 333 1-315 1 276 1-234 1 221 1-189 1 179 1-193 1 251 1-215 1 183 1-172 1 169 1-158 1 121 1-214 1 303 1-276 1 269 1-245 1 221 1-206 1 190 1-242 1 290 1-283 1 239 1-210 1 192 1-170 1 168 1 83 1-296 1 289 1-270 1 231 1-219 1 186 1-166 1-67 1 239 1-221 1 208 1-196 1 194 1-187 1 178 1 82 1-296 1 249 1-210 1 199 1-188 1 159 1-145 1-96 1 280 1-242 1 231 1-192 1 180 1-176 1 173 1-234 1 275 1-245 1 213 1-204 1 203 1-170 1 145 1-211 1 290 1-287 1 287 1-274 1 225 1-213 1 202 1 74 1-325 1 293 1-252 1 247 1-245 1 226 1-191 1 254 1-270 1 241 1-239 1 221 1-218 1 195 1-188 1 250 1-303 1 271 1-252 1 244 1-242 1 235 1-200 1 270 1-294 1 238 1-228 1 219 1-208 1 182 1-164 1-54 1 246 1-226 1 224 1-203 1 196 1-179 1 169 1-4 1-213 1 203 1-199 1 192 1-176 1 166 1-133 1 187 1-273 1 269 1-241 1 236 1-230 1 194 1-188 1 207 1-211 1 199 1-193 1 189 1-186 1 169 1-155 1 242 1-284 1 222 1-194 1 164 1-164 1 152 1-107 1-72 1 222 1-187 1 165 1-164 1 162 1-136 1 134 1-165 1 217 1-202 1 201 1-191 1 176 1-172 1 137 1 59 1-264 1 253 1-225 1 326 1-306 1 162 1-144 1 234 1-285 1 285 1-284 1 263 1-260 1 252 1-240" stroke="#f00" stroke-width="5.6" stroke-linejoin="bevel"/>
<path transform="translate(380.500 0) scale(0.125)" d="M0 3252l1-25 1 24 1-23 1 20 1-19 1 17 1-16 1-3 1 23 1-22 1 20 1-20 1 20 1-17 1 15 1 19 1-39 1 28 1-28 1 27 1-26 1 21 1-19 1-9 1 57 1-50 1 26 1-26 1 24 1-23 1 21 1-29 1 42 1-36 1 22 1-21 1 19 1-15 1 14 1-15 1 25 1-24 1 12 1-12 1 12 1-9 1 9 1-14 1 17 1-16 1 16 1-15 1 13 1-11 1 10 1 9 1-26 1 24 1-23 1 20 1-19 1 18 1-18 1 19 1-15 1 14 1-13 1 12 1-11 1 10 1-10 1 26 1-34 1 29 1-26 1-38 1 38 1 20 1-19 1-1 1 17 1-16 1 15 1-14 1 14 1-13 1 13 1-33 1 34 1-21 1 21 1-20 1 19 1-17 1 17 1 1 1-20 1 20 1-17 1 16 1-16 1 15 1-13 1-9 1 29 1-25 1 24 1-21 1 19 1-15 1 14 1 0 1-24 1 24 1-22 1 20 1-19 1 18 1-13 1 17 1-22 1 21 1-20 1 20 1-19 1 18 1-18 1 20 1-21 1 19 1-17 1 16 1-15 1 15 1-15 1 42 1-48 1 26 1-26 1 24 1-20 1 19 1-16 1-5 1 23 1-22 1 21 1-21 1 20 1-19 1 18 1 8 1-32 1 30 1-28 1 28 1-25 1 22 1-19 1-17 1 51 1-44 1 33 1-27 1 23 1-21 1 19 1-33 1 40 1-27 1 26 1-26 1 23 1-22 1 17 1 8 1-34 1 33 1-27 1 23 1-21 1 19 1-18 1 22 1-28 1 27 1-22 1 21 1-20 1 18 1-16 1-1 1 21 1-20 1 15 1-15 1 15 1-13 1 10 1-43 1 61 1-35 1 31 1-31 1 26 1-25 1 24 1-26 1 35 1-35 1 32 1-29 1 28 1-27 1 22 1-22 1 23 1-23 1 20 1-18 1 17 1-15 1 11 1-18 1 27 1-25 1 22 1-21 1 20 1-18 1 14 1-15 1 35 1-33 1 16 1-16 1 14 1-12 1 12 1 4 1-26 1 26 1-25 1 25 1-21 1 20 1-19 1-8 1 31 1-28 1 26 1-25 1 25 1-22 1 18 1 8 1-40 1 33 1-21 1 20 1-18 1 17 1-15 1 18 1-30 1 30 1-22 1 21 1-19 1 18 1-16 1-10 1 35 1-26 1 23 1-22 1 19 1-18 1 15 1-21 1 27 1-26 1 22 1-21 1 20 1-18 1 18 1-29 1 28 1-16 1 16 1-16 1 15 1-14 1 11 1 9 1-41 1 38 1-28 1 27 1-21 1 19 1-14 1 26 1-46 1 39 1-31 1 29 1-17 1 16 1-16 1 18 1-21 1 21 1-21 1 20 1-20 1 17 1-14 1-8 1 36 1-34 1 27 1-26 1 22 1-18 1 16 1-18 1 28 1-26 1 21 1-21 1 20 1-18 1 18 1 4 1-25 1 16 1-14 1 14 1-13 1 11 1-11 1 53 1-36 1-24 1 22 1-20 1 20 1-19 1 18 1 5 1-29 1 28 1-23 1 23 1-22 1 20 1-18 1 24 1-30 1 29 1-29 1 29 1-27 1 21 1-19 1 19 1-20 1 20 1-18 1 17 1-17 1 16 1-16 1 24 1-26 1 24 1-21 1 19 1-19 1 15 1-14 1 23 1-26 1 19 1-16 1 16 1-16 1 14 1-13 1-17 1 42 1-35 1 33 1-23 1 14 1-13 1 11 1-15 1 20 1-19 1 18 1-17 1 16 1-13 1 11 1-18 1 21 1-20 1 17 1-16 1 16 1-15 1 14 1-17 1 21 1-20 1 19 1-17 1 17 1-17 1 15 1-17 1 34 1-33 1 23 1-21 1 20 1-18 1 15 1-25 1 24 1-23 1 22 1-20 1 18 1-13 1 12 1-28 1 55 1-49 1 30 1-23 1 20 1-20 1 18 1 0 1-16 1 15 1-15 1 14 1-13 1 13 1-12 1-9 1 34 1-33 1 29 1-25 1 23 1-22 1 19 1-21 1 39 1-38 1 24 1-21 1 19 1-18 1 16 1 17 1-40 1 39 1-36 1 19 1-19 1 18 1-14 1 22 1-28 1 26 1-25 1 25 1-23 1 19 1-18 1 19 1-52 1 51 1-21 1 20 1-19 1 17 1-16 1 1 1 18 1-18 1 16 1-15 1 15 1-14 1 14 1 2 1-21 1 20 1-20 1 20 1-19 1 17 1-16 1 20 1-23 1 22 1-20 1 20 1-17 1 15 1-15 1 22 1-32 1 30 1-22 1 22 1-22 1 17 1-15 1-5 1 20 1-17 1 16 1-15 1 15 1-12 1 11 1 7 1-24 1 23 1-23 1 19 1-19 1 18 1-15 1 22 1-26 1 26 1-24 1 21 1-20 1 18 1-18 1-3 1 25 1-24 1 22 1-22 1 21 1-19 1 16 1-32 1 42 1-27 1 26 1-25 1 22 1-20 1 17 1-2 1-19 1 18 1-16 1 15 1-14 1 13 1-12 1-13 1 38 1-30 1 23 1-22 1 21 1-18 1 17 1-27 1 34 1-31 1 27 1-27 1 25 1-22 1 21 1-49 1 54 1-32 1 31 1-28 1 24 1-20 1 19 1 33 1-64 1 43 1-34 1 33 1-33 1 29 1-26 1-28 1 52 1-21 1 20 1-20 1 19 1-16 1 13 1 5 1-26 1 25 1-24 1 23 1-21 1 20 1-19 1-4 1 21 1-16 1 14 1-13 1 13 1-10 1 8 1 25 1-41 1 24 1-21 1 20 1-18 1 15 1-15 1 20 1-26 1 22 1-18 1 16 1-15 1 15 1-15 1 15 1-28 1 28 1-18 1 17 1-17 1 17 1-14 1-5 1 22 1-19 1 18 1-17 1 17 1-15 1 14 1 13 1-32 1 28 1-27 1 23 1-23 1 20 1-19 1-7 1 35 1-32 1 29 1-28 1 26 1-24 1 21 1 0 1-23 1 22 1-21 1 19 1-18 1 17 1-13 1-3 1 45 1-45 1 28 1-27 1 21 1-18 1 16 1-30 1 41 1-35 1 25 1-24 1 24 1-19 1 18 1 3 1-29 1 27 1-21 1 21 1-20 1 18 1-18 1 27 1-45 1 39 1-22 1 19 1-18 1 17 1-16 1-18 1 43 1-28 1 22 1-18 1 16 1-15 1 15 1-21 1 21 1-16 1 15 1-14 1 12 1-12 1 11 1-17 1 28 1-28 1 27 1-26 1 20 1-19 1 18 1-26 1 31 1-30 1 30 1-28 1 26 1-24 1 23 1-17 1 14 1-12 1 10 1-10 1 10 1-10 1 9 1-18 1 36 1-33 1 27 1-27 1 24 1-22 1 20 1-32 1 34 1-25 1 22 1-21 1 19 1-18 1 18 1-26 1 41 1-34 1 23 1-22 1 22 1-21 1 20 1-22 1 21 1-19 1 18 1-16 1 16 1-16 1 15 1-14 1 16 1-16 1 16 1-15 1 14 1-13 1 9 1 11 1-29 1 27 1-24 1 23 1-22 1 22 1-20 1-15 1 28 1-15 1 15 1-14 1 13 1-12 1 12 1 6 1-30 1 29 1-25 1 23 1-21 1 21 1-16 1 17 1-20 1 20 1-17 1 16 1-16 1 14 1-13 1-6 1 31 1-31 1 26 1-25 1 25 1-21 1 17 1 5 1-28 1 25 1-24 1 21 1-17 1 16 1-15 1-4 1 39 1-37 1 33 1-32 1 28 1-26 1 20 1-38 1 48 1-38 1 33 1-31 1 30 1-29 1 26 1-2 1-22 1 21 1-20 1 18 1-17 1 16 1-15 1 18 1-35 1 35 1-19 1 17 1-17 1 15 1-14 1-4 1 27 1-25 1 22 1-22 1 21 1-20 1 19 1 1 1-23 1 22 1-22 1 22 1-20 1 19 1-17 1 16 1-38 1 36 1-17 1 17 1-16 1 15 1-12 1-8 1 29 1-29 1 28 1-26 1 24 1-22 1 21 1 2 1-25 1 23 1-23 1 20 1-18 1 18 1-18 1-2 1 37 1-35 1 23 1-23 1 19 1-18 1 18 1 7 1-26 1 20 1-20 1 19 1-17 1 14 1-13 1-9 1 35 1-33 1 30 1-30 1 29 1-27 1 24 1-21 1 23 1-22 1 19 1-19 1 16 1-16 1 15 1-21 1 27 1-26 1 24 1-23 1 23 1-20 1 18 1 13 1-47 1 35 1-23 1 21 1-19 1 17 1-13 1 52 1-59 1 27 1-24 1 19 1-19 1 17 1-15 1 33 1-40 1 26 1-24 1 21 1-19 1 19 1-16 1-4 1 24 1-21 1 20 1-20 1 19 1-18 1 17 1-22 1 22 1-19 1 18 1-17 1 14 1-14 1 14 1 6 1-28 1 28 1-22 1 21 1-19 1 18 1-15 1 18 1-20 1 19 1-19 1-34 1 35 1 14 1-13 1 29 1-32 1 29 1-28 1 19 1-18 1 15 1-14 1 25 1-35 1 35 1-33 1 27 1-23 1 20 1-18 1 21 1-26 1 24 1-22 1 21 1-19 1 16 1-14 1 35 1-48 1 45 1-40 1 37 1-36 1 27 1-21 1 0 1 17 1-17 1 16 1-14 1 13 1-12 1 11 1-16 1 24 1-24 1 23 1-21 1 20 1-19 1 15 1-29 1 42 1-35 1 29 1-24 1 23 1-21 1 17 1 14 1-37 1 25 1-20 1 18 1-18 1 16 1-16 1 22 1-27 1 23 1-17 1 16 1-15 1 13 1-12 1 19 1-25 1 21 1-18 1 18 1-17 1 16 1-13 1-22 1 51 1-40 1 34 1-27 1 23 1-22 1 16 1 7 1-26 1 23 1-23 1 22 1-20 1 16 1-14 1-5 1 30 1-28 1 22 1-21 1 20 1-19 1 17 1-22 1 31 1-27 1 21 1-19 1 18 1-17 1 15 1 20 1-48 1 32 1-30 1 30 1-27 1 25 1-21 1 0 1 23 1-22 1 21 1-21 1 20 1-20 1 14 1 17 1-53 1 44 1-30 1 30 1-28 1 25 1-19 1 19 1-24 1 22 1-20 1 20 1-17 1 16 1-15 1 18 1-16 1 14 1-14 1 12 1-11 1 11 1-11 1-12 1 39 1-35 1 26 1-23 1 20 1-19 1 19 1 22 1-44 1 34 1-33 1 31 1-29 1 23 1-21 1-12 1 47 1-42 1 35 1-30 1 25 1-23 1 19 1 0 1-20 1 15 1-15 1 15 1-14 1 13 1-12 1 20 1-25 1 22 1-20 1 20 1-18 1 16 1-15 1-3 1 19 1-19 1 19 1-19 1 18 1-14 1 13 1-20 1 27 1-26 1 23 1-21 1 20 1-19 1 15 1 0 1-15 1 14 1-14 1 14 1-11 1 10 1-9 1-16 1 28 1-20 1 19 1-17 1 16 1-10 1 8 1-15 1 23 1-22 1 21 1-20 1 19 1-17 1 15 1-24 1 30 1-29 1 23 1-22 1 22 1-16 1 14 1 7 1-41 1 40 1-30 1 28 1-24 1 24 1-19 1-20 1 40 1-28 1 28 1-24 1 23 1-22 1 22 1-21 1 17 1-17 1 17 1-17 1 17 1-17 1 16 1-18 1 24 1-20 1 17 1-17 1 16 1-13 1 11 1 7 1-25 1 24 1-21 1 20 1-18 1 17 1-17 1 23 1-28 1 24 1-24 1 23 1-22 1 19 1-16 1-5 1 31 1-25 1 23 1-22 1 20 1-19 1 14 1-20 1 30 1-27 1 20 1-20 1 17 1-16 1 15 1 17 1-35 1 35 1-33 1 19 1-18 1 16 1-13 1-9 1 22 1-20 1 20 1-19 1 18 1-18 1 17 1-17 1 37 1-34 1 30 1-29 1 27 1-26 1 15 1 1 1-27 1 25 1-21 1 19 1-15 1 13 1-12 1 22 1-28 1 26 1-24 1 21 1-20 1 19 1-17 1-2 1 19 1-17 1 16 1-14 1 13 1-12 1 11 1 9 1-29 1 26 1-23 1 22 1-20 1 18 1-17 1-6 1 34 1-31 1 27 1-26 1 25 1-24 1 20 1-22 1 26 1-24 1 17 1-16 1 15 1-13 1 12 1 5 1-19 1 19 1-18 1 18 1-18 1 16 1-14 1-1 1 17 1-17 1 14 1-14 1 13 1-12 1 12 1 0 1-16 1 16 1-14 1 14 1-11 1 10 1-10 1-5 1 22 1-21 1 21 1-19 1 18 1-17 1 13 1-15 1 19 1-18 1 17 1-17 1 16 1-15 1 13 1-20 1 26 1-24 1 21 1-19 1 16 1-13 1 12 1-15 1 17 1-16 1 16 1-15 1 13 1-11 1 10 1-18 1 21 1-18 1 17 1-15 1 13 1-13 1 12 1-25 1 39 1-32 1 30 1-28 1 26 1-24 1 23 1 0 1-27 1 26 1-23 1 21 1-20 1 17 1-15 1-7 1 34 1-29 1 25 1-25 1 22 1-20 1 19 1-25 1 34 1-31 1 25 1-24 1 21 1-20 1 18 1 4 1-23 1 20 1-20 1 19 1-17 1 16 1-14 1-9 1 37 1-36 1 26 1-24 1 23 1-22 1 20 1-21 1 22 1-20 1 20 1-17 1 14 1-13 1 12 1 9 1-27 1 25 1-24 1 22 1-21 1 21 1-21 1 37 1-39 1 22 1-19 1 19 1-19 1 18 1-15 1-2 1 15 1-15 1 13 1-11 1 11 1-11 1 11 1 7 1-33 1 32 1-19 1 18 1-18 1 17 1-17 1-1 1 20 1-18 1 16 1-15 1 15 1-14 1 12 1 6 1-28 1 27 1-25 1 23 1-23 1 20 1-17 1 27 1-26 1 18 1-18 1 16 1-15 1 15 1-15 1-9 1 27 1-22 1 21 1-21 1 21 1-15 1 14 1-21 1 26 1-23 1 16 1-14 1 14 1-14 1 14 1-33 1 37 1-19 1 17 1-16 1 16 1-15 1 14 1 8 1-28 1 28 1-28 1 26 1-24 1 21 1-19 1-18 1 37 1-35 1 35 1-22 1 21 1-17 1 16 1-46 1 53 1-28 1 25 1-19 1 19 1-19 1 16 1-28 1 44 1-40 1 34 1-31 1 25 1-24 1 22 1-44 1 46 1-33 1 32 1-26 1 24 1-21 1 20 1-20 1 22 1-18 1 17 1-15 1 13 1-12 1 11 1-18 1 21 1-19 1 18 1-17 1 17 1-16 1 13 1-15 1 29 1-29 1 18 1-18 1 17 1-15 1 15 1-24 1 30 1-26 1 25 1-24 1 20 1-17 1 15 1-18 1 24 1-23 1 20 1-20 1 17 1-15 1 15 1-56 1 59 1-19 1 18 1-18 1 18 1-16 1 14 1 7 1-28 1 24 1-22 1 21 1-20 1 20 1-18 1 29 1-54 1 53 1-34 1 34 1-33 1 29 1-27 1-7 1 31 1-22 1 21 1-21 1 19 1-18 1 17 1-24 1 32 1-29 1 28 1-27 1 26 1-23 1 20 1-2 1-19 1 16 1-16 1 16 1-14 1 13 1-12 1 57 1-11 1-23 1-30 1 29 1-28 1 25 1-23 1-8 1 27 1-22 1 21 1-15 1 14 1-12 1 10 1-17 1 32 1-31 1 27 1-22 1 21 1-20 1 17 1 8 1-31 1 25 1-24 1 21 1-20 1 18 1-17 1 27 1-30 1 24 1-23 1 22 1-21 1 19 1-18 1 0 1 21 1-19 1 18 1-18 1 16 1-16 1 15 1 8 1-32 1 27 1-19 1 17 1-15 1 13 1-13 1-17 1 33 1-21 1 19 1-17 1 16 1-16 1 16 1 6 1-49 1 46 1-23 1 23 1-21 1 19 1-18 1-5 1 24 1-23 1 23 1-19 1 18 1-17 1 15 1-31 1 39 1-35 1 34 1-25 1 22 1-21 1 18 1 8 1-27 1 23 1-18 1 16 1-15 1 14 1-13 1 18 1-22 1 18 1-16 1 15 1-14 1 12 1-12 1 20 1-22 1 21 1-21 1 20 1-19 1 15 1-15 1 21 1-32 1 28 1-25 1 24 1-22 1 21 1-19 1-26 1 53 1-39 1 37 1-24 1 21 1-20 1 19 1 8 1-39 1 34 1-25 1 23 1-22 1 19 1-16 1-2 1 19 1-17 1 16 1-16 1 16 1-14 1 13 1 7 1-25 1 24 1-22 1 21 1-21 1 18 1-17 1 26 1-25 1 18 1-18 1 18 1-17 1 15 1-14 1-2 1 20 1-20 1 16 1-16 1 16 1-15 1 14 1-19 1 20 1-18 1 16 1-16 1 15 1-13 1 12 1 8 1-24 1 22 1-18 1 17 1-17 1 16 1-15 1 34 1-49 1 33 1-29 1 29 1-25 1 24 1-20 1 19 1-22 1 21 1-21 1 21 1-20 1 17 1-17 1 20 1-21 1 20 1-19 1 17 1-15 1 15 1-14 1 31 1-34 1 23 1-22 1 20 1-19 1 17 1-15 1-12 1 39 1-39 1 33 1-27 1 27 1-25 1 21 1 8 1-35 1 29 1-29 1 28 1-21 1 20 1-18 1 21 1-23 1 21 1-19 1 19 1-18 1 16 1-15 1-10 1 37 1-37 1 32 1-28 1 27 1-24 1 23 1-43 1 44 1-26 1 20 1-20 1 19 1-18 1 18 1-1 1-13 1 11 1-11 1 11 1-10 1 9 1-8 1-6 1 21 1-19 1 17 1-17 1 17 1-15 1 12 1 6 1-19 1 15 1-15 1-40 1 41 1 10 1-10 1 18 1-34 1 33 1-24 1 23 1-21 1 21 1-19 1 22 1-22 1 17 1-17 1 17 1-17 1 15 1-13 1-5 1 23 1-23 1 21 1-19 1 18 1-17 1 15 1-22 1 33 1-28 1 24 1-22 1 21 1-19 1 17 1 9 1-45 1 40 1-27 1 26 1-26 1 23 1-23 1 28 1-29 1 26 1-20 1 20 1-20 1 17 1-15 1 17 1-26 1 24 1-18 1 17 1-16 1 15 1-14" stroke="#00f" stroke-width="5.6" stroke-linejoin="bevel"/>
<path d="M43.5 229.0V32.5" stroke="#8a8a8a"/>
<path d="M43.5 32.3H299.5" stroke="#999" stroke-width="1.25"/>
<path d="M43.5 228.9H299.5" stroke="#909090" stroke-width="1.4"/>
<path d="M299.5 229.0V32.0" stroke="#4a4a4a" stroke-width="1.0"/>
<rect x="187.5" y="34.5" width="109" height="38.5" fill="#fff" stroke="#777" stroke-width="1"/>
<path d="M194.0 45.5H228.0" stroke="#f00" stroke-width="0.5"/>
<path d="M194.0 62.5H228.0" stroke="#00f" stroke-width="0.5"/>
<text x="232.0" y="50.5" font-size="12"><tspan font-size="10">Δ</tspan><tspan dx="0.3">=0.07mm</tspan></text>
<text x="232.0" y="66.8" font-size="12">unbuckled</text>
<path d="M380.5 229.0V32.5" stroke="#8a8a8a"/>
<path d="M380.5 32.3H637.3" stroke="#999" stroke-width="1.25"/>
<path d="M380.5 228.9H637.3" stroke="#909090" stroke-width="1.4"/>
<path d="M637.3 229.0V32.0" stroke="#9a9a9a" stroke-width="1.3"/>
<rect x="524.0" y="35.2" width="109.5" height="38.3" fill="#fff" stroke="#777" stroke-width="1"/>
<path d="M530.5 45.8H564.5" stroke="#f00" stroke-width="0.5"/>
<path d="M530.5 63.3H564.5" stroke="#00f" stroke-width="0.5"/>
<text x="568.5" y="51.2" font-size="12"><tspan font-size="10">Δ</tspan><tspan dx="0.3">=0.07mm</tspan></text>
<text x="568.5" y="67.5" font-size="12">unbuckled</text>
<path d="M43.5 503.0V306.5" stroke="#8a8a8a"/>
<path d="M43.5 306.3H299.5" stroke="#999" stroke-width="1.25"/>
<path d="M43.5 502.9H299.5" stroke="#909090" stroke-width="1.4"/>
<path d="M299.5 503.0V306.0" stroke="#555" stroke-width="1.0"/>
<rect x="189.3" y="309.5" width="110" height="38" fill="#fff" stroke="#777" stroke-width="1"/>
<path d="M195.8 320.5H229.8" stroke="#f00" stroke-width="0.5"/>
<path d="M195.8 337.5H229.8" stroke="#00f" stroke-width="0.5"/>
<text x="233.3" y="325.5" font-size="12"><tspan font-size="10">Δ</tspan><tspan dx="0.3">=0.07mm</tspan></text>
<text x="233.3" y="341.6" font-size="12">unbuckled</text>
<path d="M380.5 503.0V306.5" stroke="#8a8a8a"/>
<path d="M380.5 306.3H637.3" stroke="#999" stroke-width="1.25"/>
<path d="M380.5 502.9H637.3" stroke="#909090" stroke-width="1.4"/>
<path d="M637.3 503.0V306.0" stroke="#a0a0a0" stroke-width="1.3"/>
<rect x="526.5" y="309.5" width="109.5" height="38" fill="#fff" stroke="#777" stroke-width="1"/>
<path d="M533.0 320.5H567.0" stroke="#f00" stroke-width="0.5"/>
<path d="M533.0 337.5H567.0" stroke="#00f" stroke-width="0.5"/>
<text x="570.1" y="325.5" font-size="12"><tspan font-size="10">Δ</tspan><tspan dx="0.3">=0.07mm</tspan></text>
<text x="570.1" y="341.6" font-size="12">unbuckled</text>
</svg></body></html>
